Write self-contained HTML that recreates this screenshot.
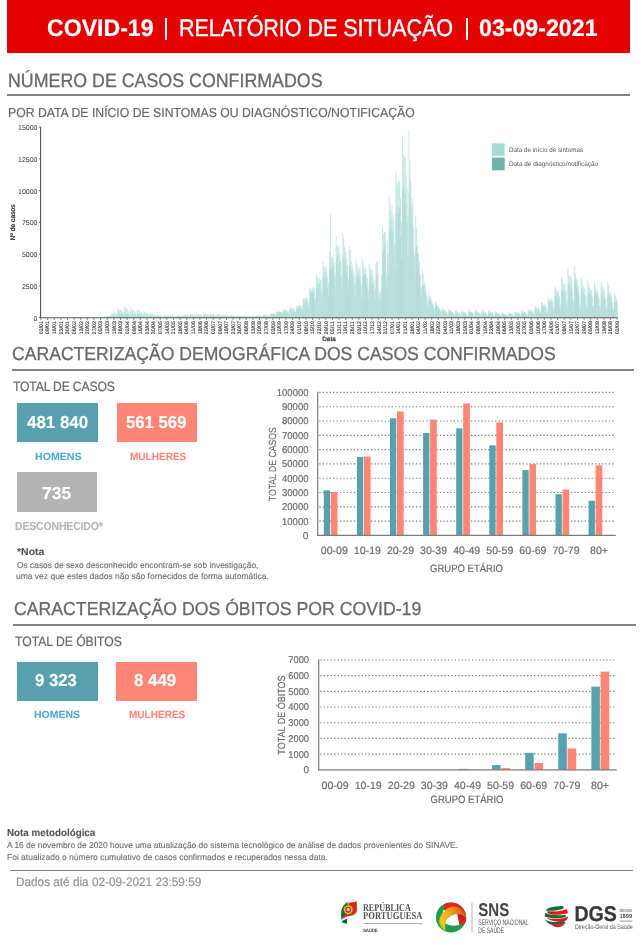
<!DOCTYPE html>
<html lang="pt"><head><meta charset="utf-8"><title>COVID-19 | Relatório de Situação | 03-09-2021</title>
<style>
html,body{margin:0;padding:0;background:#fff}
body{width:643px;height:950px;position:relative;overflow:hidden;font-family:"Liberation Sans",sans-serif;text-rendering:geometricPrecision}
.t{position:absolute;white-space:nowrap;margin:0;transform-origin:0 0}
.b{font-weight:bold}
.se{font-family:"Liberation Serif",serif}
.r{position:absolute}
svg{position:absolute;left:0;top:0}
text{white-space:pre;text-rendering:geometricPrecision}
#w{position:absolute;left:0;top:0;width:643px;height:950px;will-change:transform}
</style></head><body><div id="w">
<div class="r" style="left:7.00px;top:0.00px;width:623.00px;height:52.50px;background:#e50000;"></div>
<div class="t b" style="left:46.85px;top:15px;font-size:23.98px;line-height:27px;letter-spacing:0.000px;color:#fff;-webkit-text-stroke:0.19px currentColor;transform:scaleX(0.9639);">COVID-19</div>
<div class="r" style="left:165.00px;top:17.50px;width:2.00px;height:22.50px;background:#fff;"></div>
<div class="t" style="left:178.83px;top:15px;font-size:23.98px;line-height:27px;letter-spacing:-0.067px;color:#fff;-webkit-text-stroke:0.36px currentColor;transform:scaleX(0.9000);">RELATÓRIO DE SITUAÇÃO</div>
<div class="r" style="left:465.70px;top:17.50px;width:2.00px;height:22.50px;background:#fff;"></div>
<div class="t b" style="left:478.78px;top:15px;font-size:23.98px;line-height:27px;letter-spacing:0.000px;color:#fff;-webkit-text-stroke:0.19px currentColor;transform:scaleX(0.9666);">03-09-2021</div>
<div class="t" style="left:7.64px;top:71px;font-size:19.33px;line-height:21px;letter-spacing:0.000px;color:#6b6767;-webkit-text-stroke:0.29px currentColor;transform:scaleX(0.9211);">NÚMERO DE CASOS CONFIRMADOS</div>
<div class="r" style="left:7.00px;top:94.00px;width:623.00px;height:1.70px;background:#858080;"></div>
<div class="t" style="left:7.70px;top:105px;font-size:13.08px;line-height:15px;letter-spacing:0.000px;color:#6b6767;-webkit-text-stroke:0.20px currentColor;transform:scaleX(0.9360);">POR DATA DE INÍCIO DE SINTOMAS OU DIAGNÓSTICO/NOTIFICAÇÃO</div>
<div class="t" style="left:12.11px;top:343px;font-size:18.75px;line-height:21px;letter-spacing:0.000px;color:#6b6767;-webkit-text-stroke:0.28px currentColor;transform:scaleX(0.9387);">CARACTERIZAÇÃO DEMOGRÁFICA DOS CASOS CONFIRMADOS</div>
<div class="r" style="left:11.60px;top:369.10px;width:622.50px;height:1.70px;background:#858080;"></div>
<div class="t" style="left:12.73px;top:379px;font-size:13.52px;line-height:15px;letter-spacing:-0.177px;color:#6b6767;-webkit-text-stroke:0.20px currentColor;transform:scaleX(0.9000);">TOTAL DE CASOS</div>
<div class="r" style="left:17.10px;top:403.10px;width:80.80px;height:39.20px;background:#57a0ad;"></div>
<div class="t b" style="left:27.14px;top:412px;font-size:17.30px;line-height:20px;letter-spacing:0.000px;color:#fff;-webkit-text-stroke:0.14px currentColor;transform:scaleX(0.9778);">481 840</div>
<div class="t b" style="left:34.89px;top:452px;font-size:10.47px;line-height:11px;letter-spacing:0.000px;color:#4fa8d8;-webkit-text-stroke:0.08px currentColor;transform:scaleX(1.0146);">HOMENS</div>
<div class="r" style="left:116.70px;top:403.10px;width:80.30px;height:39.20px;background:#ff8674;"></div>
<div class="t b" style="left:126.08px;top:412px;font-size:17.30px;line-height:20px;letter-spacing:0.000px;color:#fff;-webkit-text-stroke:0.14px currentColor;transform:scaleX(0.9680);">561 569</div>
<div class="t b" style="left:130.23px;top:452px;font-size:10.47px;line-height:11px;letter-spacing:0.000px;color:#ff8674;-webkit-text-stroke:0.08px currentColor;transform:scaleX(0.9576);">MULHERES</div>
<div class="r" style="left:16.90px;top:472.40px;width:80.60px;height:39.40px;background:#b3b3b3;"></div>
<div class="t b" style="left:42.05px;top:483px;font-size:17.30px;line-height:20px;letter-spacing:0.000px;color:#fff;-webkit-text-stroke:0.14px currentColor;transform:scaleX(1.0094);">735</div>
<div class="t b" style="left:14.70px;top:520px;font-size:11.63px;line-height:13px;letter-spacing:-0.162px;color:#b3b3b3;-webkit-text-stroke:0.09px currentColor;transform:scaleX(0.9000);">DESCONHECIDO*</div>
<div class="t b" style="left:16.87px;top:547px;font-size:10.17px;line-height:11px;letter-spacing:0.000px;color:#525252;-webkit-text-stroke:0.08px currentColor;transform:scaleX(1.0304);">*Nota</div>
<div class="t" style="left:16.50px;top:560px;font-size:8.58px;line-height:10px;letter-spacing:0.000px;color:#707070;-webkit-text-stroke:0.13px currentColor;transform:scaleX(0.9773);">Os casos de sexo desconhecido encontram-se sob investigação,</div>
<div class="t" style="left:16.35px;top:571px;font-size:8.58px;line-height:10px;letter-spacing:0.000px;color:#707070;-webkit-text-stroke:0.13px currentColor;transform:scaleX(0.9890);">uma vez que estes dados não são fornecidos de forma automática.</div>
<div class="t" style="left:14.10px;top:598px;font-size:18.75px;line-height:21px;letter-spacing:0.000px;color:#6b6767;-webkit-text-stroke:0.28px currentColor;transform:scaleX(0.9426);">CARACTERIZAÇÃO DOS ÓBITOS POR COVID-19</div>
<div class="r" style="left:13.30px;top:624.40px;width:623.20px;height:1.70px;background:#858080;"></div>
<div class="t" style="left:14.73px;top:634px;font-size:13.52px;line-height:15px;letter-spacing:-0.018px;color:#6b6767;-webkit-text-stroke:0.20px currentColor;transform:scaleX(0.9000);">TOTAL DE ÓBITOS</div>
<div class="r" style="left:17.10px;top:661.50px;width:80.80px;height:39.20px;background:#57a0ad;"></div>
<div class="t b" style="left:34.82px;top:670px;font-size:17.30px;line-height:20px;letter-spacing:0.000px;color:#fff;-webkit-text-stroke:0.14px currentColor;transform:scaleX(0.9675);">9 323</div>
<div class="t b" style="left:34.00px;top:710px;font-size:10.47px;line-height:11px;letter-spacing:0.000px;color:#4fa8d8;-webkit-text-stroke:0.08px currentColor;transform:scaleX(1.0034);">HOMENS</div>
<div class="r" style="left:116.20px;top:661.50px;width:80.60px;height:39.20px;background:#ff8674;"></div>
<div class="t b" style="left:134.26px;top:670px;font-size:17.30px;line-height:20px;letter-spacing:0.000px;color:#fff;-webkit-text-stroke:0.14px currentColor;transform:scaleX(0.9762);">8 449</div>
<div class="t b" style="left:129.43px;top:710px;font-size:10.47px;line-height:11px;letter-spacing:0.000px;color:#ff8674;-webkit-text-stroke:0.08px currentColor;transform:scaleX(0.9576);">MULHERES</div>
<div class="t b" style="left:6.84px;top:828px;font-size:10.17px;line-height:11px;letter-spacing:0.000px;color:#525252;-webkit-text-stroke:0.08px currentColor;transform:scaleX(0.9657);">Nota metodológica</div>
<div class="t" style="left:7.48px;top:840px;font-size:8.58px;line-height:10px;letter-spacing:0.000px;color:#707070;-webkit-text-stroke:0.13px currentColor;transform:scaleX(0.9773);">A 16 de novembro de 2020 houve uma atualização do sistema tecnológico de análise de dados provenientes do SINAVE.</div>
<div class="t" style="left:6.81px;top:852px;font-size:8.58px;line-height:10px;letter-spacing:0.000px;color:#707070;-webkit-text-stroke:0.13px currentColor;transform:scaleX(0.9868);">Foi atualizado o número cumulativo de casos confirmados e recuperados nessa data.</div>
<div class="r" style="left:10.00px;top:869.50px;width:622.50px;height:1.40px;background:#8a8686;"></div>
<div class="t" style="left:15.83px;top:875px;font-size:12.35px;line-height:14px;letter-spacing:0.000px;color:#939393;-webkit-text-stroke:0.19px currentColor;transform:scaleX(0.9537);">Dados até dia 02-09-2021 23:59:59</div>
<svg width="643" height="950" viewBox="0 0 643 950">
<g id="epi">
<path d="M98.71 317.60v-0.10M99.66 317.60v-0.18M100.61 317.60v-0.27M101.55 317.60v-0.33M102.50 317.60v-0.32M103.45 317.60v-0.33M104.39 317.60v-0.76M105.34 317.60v-1.09M106.28 317.60v-1.46M107.23 317.60v-1.70M108.18 317.60v-1.93M109.12 317.60v-1.84M110.07 317.60v-1.87M111.01 317.60v-4.19M111.96 317.60v-4.31M112.91 317.60v-4.53M113.85 317.60v-5.21M114.80 317.60v-5.08M115.75 317.60v-4.35M116.69 317.60v-4.01M117.64 317.60v-8.89M118.58 317.60v-7.85M119.53 317.60v-8.04M120.48 317.60v-7.80M121.42 317.60v-7.40M122.37 317.60v-6.37M123.31 317.60v-5.14M124.26 317.60v-10.79M125.21 317.60v-9.90M126.15 317.60v-9.27M127.10 317.60v-8.19M128.04 317.60v-8.09M128.99 317.60v-6.39M129.94 317.60v-5.25M130.88 317.60v-10.16M131.83 317.60v-8.77M132.78 317.60v-7.79M133.72 317.60v-7.29M134.67 317.60v-7.02M135.61 317.60v-5.51M136.56 317.60v-4.46M137.51 317.60v-8.25M138.45 317.60v-7.02M139.40 317.60v-6.42M140.34 317.60v-6.28M141.29 317.60v-5.40M142.24 317.60v-4.37M143.18 317.60v-3.47M144.13 317.60v-6.60M145.08 317.60v-5.86M146.02 317.60v-5.02M146.97 317.60v-4.60M147.91 317.60v-4.33M148.86 317.60v-3.17M149.81 317.60v-2.60M150.75 317.60v-4.83M151.70 317.60v-3.97M152.64 317.60v-3.78M153.59 317.60v-3.36M154.54 317.60v-2.86M155.48 317.60v-2.14M156.43 317.60v-1.57M157.38 317.60v-3.05M158.32 317.60v-2.71M159.27 317.60v-2.50M160.21 317.60v-2.41M161.16 317.60v-2.07M162.11 317.60v-1.65M163.05 317.60v-1.36M164.00 317.60v-2.74M164.94 317.60v-2.56M165.89 317.60v-2.30M166.84 317.60v-2.25M167.78 317.60v-2.07M168.73 317.60v-1.61M169.68 317.60v-1.26M170.62 317.60v-2.64M171.57 317.60v-2.28M172.51 317.60v-2.22M173.46 317.60v-2.23M174.41 317.60v-2.01M175.35 317.60v-1.68M176.30 317.60v-1.35M177.24 317.60v-2.84M178.19 317.60v-2.55M179.14 317.60v-2.52M180.08 317.60v-2.48M181.03 317.60v-2.26M181.98 317.60v-1.88M182.92 317.60v-1.63M183.87 317.60v-3.25M184.81 317.60v-2.96M185.76 317.60v-2.89M186.71 317.60v-2.83M187.65 317.60v-2.55M188.60 317.60v-2.15M189.54 317.60v-1.69M190.49 317.60v-3.56M191.44 317.60v-3.14M192.38 317.60v-3.12M193.33 317.60v-3.03M194.27 317.60v-2.78M195.22 317.60v-2.14M196.17 317.60v-1.95M197.11 317.60v-3.76M198.06 317.60v-3.36M199.01 317.60v-3.38M199.95 317.60v-2.94M200.90 317.60v-2.83M201.84 317.60v-2.23M202.79 317.60v-1.97M203.74 317.60v-3.86M204.68 317.60v-3.47M205.63 317.60v-3.25M206.57 317.60v-3.13M207.52 317.60v-3.04M208.47 317.60v-2.47M209.41 317.60v-1.93M210.36 317.60v-3.96M211.31 317.60v-3.47M212.25 317.60v-3.32M213.20 317.60v-3.24M214.14 317.60v-2.79M215.09 317.60v-2.35M216.04 317.60v-1.86M216.98 317.60v-3.86M217.93 317.60v-3.40M218.87 317.60v-3.32M219.82 317.60v-3.04M220.77 317.60v-2.78M221.71 317.60v-2.22M222.66 317.60v-1.73M223.61 317.60v-3.45M224.55 317.60v-2.96M225.50 317.60v-2.80M226.44 317.60v-2.45M227.39 317.60v-2.20M228.34 317.60v-1.78M229.28 317.60v-1.50M230.23 317.60v-2.84M231.17 317.60v-2.41M232.12 317.60v-2.18M233.07 317.60v-2.00M234.01 317.60v-1.90M234.96 317.60v-1.49M235.91 317.60v-1.16M236.85 317.60v-2.34M237.80 317.60v-2.06M238.74 317.60v-1.89M239.69 317.60v-1.80M240.64 317.60v-1.58M241.58 317.60v-1.30M242.53 317.60v-1.03M243.47 317.60v-2.03M244.42 317.60v-1.77M245.37 317.60v-1.79M246.31 317.60v-1.60M247.26 317.60v-1.60M248.20 317.60v-1.28M249.15 317.60v-1.03M250.10 317.60v-2.13M251.04 317.60v-1.89M251.99 317.60v-1.84M252.94 317.60v-1.90M253.88 317.60v-1.66M254.83 317.60v-1.38M255.77 317.60v-1.14M256.72 317.60v-2.44M257.67 317.60v-2.27M258.61 317.60v-2.22M259.56 317.60v-2.11M260.50 317.60v-2.04M261.45 317.60v-1.64M262.40 317.60v-1.44M263.34 317.60v-3.05M264.29 317.60v-2.92M265.24 317.60v-2.85M266.18 317.60v-2.69M267.13 317.60v-2.73M268.07 317.60v-2.23M269.02 317.60v-1.79M269.97 317.60v-3.86M270.91 317.60v-3.96M271.86 317.60v-4.12M272.80 317.60v-4.19M273.75 317.60v-4.49M274.70 317.60v-4.21M275.64 317.60v-3.36M276.59 317.60v-6.60M277.54 317.60v-6.20M278.48 317.60v-6.01M279.43 317.60v-6.05M280.37 317.60v-6.37M281.32 317.60v-5.84M282.27 317.60v-4.45M283.21 317.60v-8.89M284.16 317.60v-8.55M285.10 317.60v-7.99M286.05 317.60v-7.49M287.00 317.60v-7.50M287.94 317.60v-6.70M288.89 317.60v-5.04M289.84 317.60v-10.16M290.78 317.60v-9.56M291.73 317.60v-9.12M292.67 317.60v-9.26M293.62 317.60v-9.01M294.57 317.60v-7.66M295.51 317.60v-6.17M296.46 317.60v-11.81M297.40 317.60v-11.24M298.35 317.60v-11.66M299.30 317.60v-12.62M300.24 317.60v-12.49M301.19 317.60v-11.85M302.13 317.60v-9.01M303.08 317.60v-19.05M304.03 317.60v-19.85M304.97 317.60v-18.12M305.92 317.60v-20.28M306.87 317.60v-20.07M307.81 317.60v-18.19M308.76 317.60v-14.29M309.70 317.60v-29.84M310.65 317.60v-29.28M311.60 317.60v-27.88M312.54 317.60v-29.54M313.49 317.60v-30.58M314.43 317.60v-28.66M315.38 317.60v-20.44M316.33 317.60v-43.18M317.27 317.60v-41.19M318.22 317.60v-38.81M319.17 317.60v-39.61M320.11 317.60v-38.34M321.06 317.60v-37.82M322.00 317.60v-29.31M322.95 317.60v-55.88M323.90 317.60v-51.64M324.84 317.60v-50.01M325.79 317.60v-50.44M326.73 317.60v-48.99M327.68 317.60v-42.20M328.63 317.60v-34.71M329.57 317.60v-66.04M330.52 317.60v-103.89M331.47 317.60v-60.92M332.41 317.60v-59.92M333.36 317.60v-62.70M334.30 317.60v-55.20M335.25 317.60v-43.54M336.20 317.60v-82.55M337.14 317.60v-72.73M338.09 317.60v-71.05M339.03 317.60v-70.10M339.98 317.60v-63.78M340.93 317.60v-56.43M341.87 317.60v-42.98M342.82 317.60v-84.20M343.77 317.60v-79.44M344.71 317.60v-70.44M345.66 317.60v-65.83M346.60 317.60v-59.62M347.55 317.60v-51.18M348.50 317.60v-38.23M349.44 317.60v-71.75M350.39 317.60v-67.63M351.33 317.60v-56.63M352.28 317.60v-53.00M353.23 317.60v-49.77M354.17 317.60v-43.13M355.12 317.60v-33.17M356.07 317.60v-59.69M357.01 317.60v-54.39M357.96 317.60v-50.61M358.90 317.60v-47.24M359.85 317.60v-49.80M360.80 317.60v-41.61M361.74 317.60v-31.99M362.69 317.60v-59.31M363.63 317.60v-52.49M364.58 317.60v-49.40M365.53 317.60v-48.93M366.47 317.60v-42.80M367.42 317.60v-39.60M368.36 317.60v-28.33M369.31 317.60v-53.85M370.26 317.60v-49.10M371.20 317.60v-48.01M372.15 317.60v-47.09M373.10 317.60v-41.73M374.04 317.60v-38.16M374.99 317.60v-29.59M375.93 317.60v-54.61M376.88 317.60v-56.40M377.83 317.60v-56.05M378.77 317.60v-26.87M379.72 317.60v-28.16M380.66 317.60v-24.76M381.61 317.60v-43.26M382.56 317.60v-90.42M383.50 317.60v-83.88M384.45 317.60v-85.59M385.40 317.60v-85.11M386.34 317.60v-43.69M387.29 317.60v-77.23M388.23 317.60v-63.62M389.18 317.60v-121.41M390.13 317.60v-114.69M391.07 317.60v-107.73M392.02 317.60v-111.87M392.96 317.60v-103.32M393.91 317.60v-99.13M394.86 317.60v-72.43M395.80 317.60v-146.30M396.75 317.60v-135.39M397.70 317.60v-132.23M398.64 317.60v-136.30M399.59 317.60v-136.96M400.53 317.60v-119.93M401.48 317.60v-95.95M402.43 317.60v-181.23M403.37 317.60v-163.14M404.32 317.60v-161.68M405.26 317.60v-159.81M406.21 317.60v-143.54M407.16 317.60v-129.27M408.10 317.60v-101.72M409.05 317.60v-188.21M410.00 317.60v-157.08M410.94 317.60v-135.46M411.89 317.60v-119.76M412.83 317.60v-115.21M413.78 317.60v-90.31M414.73 317.60v-61.65M415.67 317.60v-101.22M416.62 317.60v-90.02M417.56 317.60v-70.75M418.51 317.60v-64.65M419.46 317.60v-56.15M420.40 317.60v-42.53M421.35 317.60v-28.93M422.29 317.60v-49.02M423.24 317.60v-44.02M424.19 317.60v-35.97M425.13 317.60v-33.54M426.08 317.60v-27.39M427.03 317.60v-22.50M427.97 317.60v-14.75M428.92 317.60v-25.97M429.86 317.60v-21.52M430.81 317.60v-20.51M431.76 317.60v-17.18M432.70 317.60v-15.51M433.65 317.60v-12.87M434.59 317.60v-9.42M435.54 317.60v-16.00M436.49 317.60v-14.63M437.43 317.60v-12.09M438.38 317.60v-11.09M439.33 317.60v-9.74M440.27 317.60v-8.76M441.22 317.60v-6.09M442.16 317.60v-10.41M443.11 317.60v-9.11M444.06 317.60v-8.37M445.00 317.60v-7.32M445.95 317.60v-6.83M446.89 317.60v-4.93M447.84 317.60v-3.08M448.79 317.60v-8.57M449.73 317.60v-7.63M450.68 317.60v-6.53M451.63 317.60v-6.44M452.57 317.60v-5.55M453.52 317.60v-4.18M454.46 317.60v-2.43M455.41 317.60v-7.30M456.36 317.60v-6.81M457.30 317.60v-6.06M458.25 317.60v-5.28M459.19 317.60v-5.09M460.14 317.60v-3.84M461.09 317.60v-2.30M462.03 317.60v-6.73M462.98 317.60v-6.28M463.93 317.60v-5.68M464.87 317.60v-5.63M465.82 317.60v-5.19M466.76 317.60v-4.09M467.71 317.60v-2.39M468.66 317.60v-7.30M469.60 317.60v-6.88M470.55 317.60v-5.90M471.49 317.60v-6.11M472.44 317.60v-5.34M473.39 317.60v-4.31M474.33 317.60v-2.49M475.28 317.60v-7.68M476.22 317.60v-7.15M477.17 317.60v-5.94M478.12 317.60v-5.76M479.06 317.60v-5.87M480.01 317.60v-4.49M480.96 317.60v-2.71M481.90 317.60v-7.68M482.85 317.60v-7.06M483.79 317.60v-5.89M484.74 317.60v-5.94M485.69 317.60v-5.38M486.63 317.60v-4.03M487.58 317.60v-2.53M488.52 317.60v-7.30M489.47 317.60v-6.15M490.42 317.60v-5.83M491.36 317.60v-5.32M492.31 317.60v-5.13M493.26 317.60v-3.60M494.20 317.60v-2.22M495.15 317.60v-6.48M496.09 317.60v-5.40M497.04 317.60v-4.99M497.99 317.60v-4.44M498.93 317.60v-4.28M499.88 317.60v-3.04M500.82 317.60v-1.74M501.77 317.60v-4.95M502.72 317.60v-4.40M503.66 317.60v-4.10M504.61 317.60v-3.67M505.56 317.60v-3.59M506.50 317.60v-2.75M507.45 317.60v-1.68M508.39 317.60v-4.95M509.34 317.60v-4.61M510.29 317.60v-4.42M511.23 317.60v-4.25M512.18 317.60v-4.04M513.12 317.60v-3.11M514.07 317.60v-2.06M515.02 317.60v-5.97M515.96 317.60v-5.67M516.91 317.60v-4.92M517.86 317.60v-5.22M518.80 317.60v-4.77M519.75 317.60v-3.91M520.69 317.60v-2.42M521.64 317.60v-6.98M522.59 317.60v-6.26M523.53 317.60v-5.84M524.48 317.60v-6.16M525.42 317.60v-5.55M526.37 317.60v-4.48M527.32 317.60v-2.79M528.26 317.60v-8.51M529.21 317.60v-8.16M530.16 317.60v-7.14M531.10 317.60v-7.68M532.05 317.60v-7.52M532.99 317.60v-5.84M533.94 317.60v-3.68M534.89 317.60v-11.05M535.83 317.60v-10.62M536.78 317.60v-10.17M537.72 317.60v-10.08M538.67 317.60v-10.09M539.62 317.60v-7.80M540.56 317.60v-5.23M541.51 317.60v-15.62M542.45 317.60v-14.53M543.40 317.60v-13.07M544.35 317.60v-12.97M545.29 317.60v-13.09M546.24 317.60v-10.49M547.19 317.60v-6.63M548.13 317.60v-19.62M549.08 317.60v-18.24M550.02 317.60v-18.24M550.97 317.60v-18.33M551.92 317.60v-19.90M552.86 317.60v-15.92M553.81 317.60v-10.39M554.75 317.60v-30.73M555.70 317.60v-30.03M556.65 317.60v-27.77M557.59 317.60v-25.83M558.54 317.60v-26.90M559.49 317.60v-21.67M560.43 317.60v-13.51M561.38 317.60v-39.81M562.32 317.60v-38.64M563.27 317.60v-33.68M564.22 317.60v-33.68M565.16 317.60v-32.06M566.11 317.60v-27.32M567.05 317.60v-17.02M568.00 317.60v-49.53M568.95 317.60v-43.10M569.89 317.60v-41.13M570.84 317.60v-40.76M571.79 317.60v-37.27M572.73 317.60v-27.40M573.68 317.60v-17.64M574.62 317.60v-51.50M575.57 317.60v-43.93M576.52 317.60v-39.56M577.46 317.60v-37.59M578.41 317.60v-32.10M579.35 317.60v-23.49M580.30 317.60v-14.06M581.25 317.60v-40.89M582.19 317.60v-36.73M583.14 317.60v-31.81M584.09 317.60v-29.44M585.03 317.60v-28.91M585.98 317.60v-21.71M586.92 317.60v-12.54M587.87 317.60v-37.85M588.82 317.60v-32.19M589.76 317.60v-29.75M590.71 317.60v-28.43M591.65 317.60v-27.00M592.60 317.60v-19.78M593.55 317.60v-12.24M594.49 317.60v-35.81M595.44 317.60v-31.34M596.38 317.60v-27.72M597.33 317.60v-28.80M598.28 317.60v-25.68M599.22 317.60v-18.88M600.17 317.60v-12.10M601.12 317.60v-35.31M602.06 317.60v-31.60M603.01 317.60v-29.27M603.95 317.60v-28.65M604.90 317.60v-25.85M605.85 317.60v-19.25M606.79 317.60v-12.34M607.74 317.60v-35.31M608.68 317.60v-31.75M609.63 317.60v-25.36M610.58 317.60v-24.01M611.52 317.60v-22.02M612.47 317.60v-15.23M613.42 317.60v-8.51M614.36 317.60v-24.70M615.31 317.60v-22.30M616.25 317.60v-19.95M617.20 317.60v-18.16" stroke="#a3dad1" stroke-opacity="0.60" stroke-width="0.993" fill="none"/>
<path d="M99.66 317.60v-0.09M100.61 317.60v-0.13M101.55 317.60v-0.15M102.50 317.60v-0.13M103.45 317.60v-0.12M104.39 317.60v-0.29M105.34 317.60v-0.50M106.28 317.60v-0.65M107.23 317.60v-0.81M108.18 317.60v-0.91M109.12 317.60v-0.88M110.07 317.60v-0.70M111.01 317.60v-1.62M111.96 317.60v-2.00M112.91 317.60v-2.32M113.85 317.60v-2.35M114.80 317.60v-2.20M115.75 317.60v-1.92M116.69 317.60v-1.72M117.64 317.60v-3.39M118.58 317.60v-4.09M119.53 317.60v-3.59M120.48 317.60v-3.44M121.42 317.60v-3.62M122.37 317.60v-2.74M123.31 317.60v-2.07M124.26 317.60v-4.12M125.21 317.60v-4.52M126.15 317.60v-4.14M127.10 317.60v-4.17M128.04 317.60v-3.72M128.99 317.60v-2.81M129.94 317.60v-1.97M130.88 317.60v-4.07M131.83 317.60v-3.88M132.78 317.60v-3.73M133.72 317.60v-3.65M134.67 317.60v-3.06M135.61 317.60v-2.44M136.56 317.60v-1.67M137.51 317.60v-3.17M138.45 317.60v-3.23M139.40 317.60v-3.17M140.34 317.60v-3.00M141.29 317.60v-2.54M142.24 317.60v-1.73M143.18 317.60v-1.45M144.13 317.60v-2.75M145.08 317.60v-2.66M146.02 317.60v-2.54M146.97 317.60v-2.31M147.91 317.60v-1.87M148.86 317.60v-1.47M149.81 317.60v-0.97M150.75 317.60v-1.83M151.70 317.60v-2.03M152.64 317.60v-1.64M153.59 317.60v-1.65M154.54 317.60v-1.27M155.48 317.60v-0.88M156.43 317.60v-0.70M157.38 317.60v-1.24M158.32 317.60v-1.34M159.27 317.60v-1.25M160.21 317.60v-1.06M161.16 317.60v-0.95M162.11 317.60v-0.74M163.05 317.60v-0.55M164.00 317.60v-1.04M164.94 317.60v-1.12M165.89 317.60v-1.10M166.84 317.60v-1.01M167.78 317.60v-0.91M168.73 317.60v-0.70M169.68 317.60v-0.53M170.62 317.60v-1.01M171.57 317.60v-1.17M172.51 317.60v-1.08M173.46 317.60v-1.05M174.41 317.60v-0.94M175.35 317.60v-0.75M176.30 317.60v-0.57M177.24 317.60v-1.10M178.19 317.60v-1.27M179.14 317.60v-1.19M180.08 317.60v-1.21M181.03 317.60v-1.06M181.98 317.60v-0.82M182.92 317.60v-0.63M183.87 317.60v-1.31M184.81 317.60v-1.47M185.76 317.60v-1.41M186.71 317.60v-1.24M187.65 317.60v-1.24M188.60 317.60v-0.86M189.54 317.60v-0.70M190.49 317.60v-1.34M191.44 317.60v-1.42M192.38 317.60v-1.50M193.33 317.60v-1.32M194.27 317.60v-1.28M195.22 317.60v-1.01M196.17 317.60v-0.72M197.11 317.60v-1.60M198.06 317.60v-1.58M199.01 317.60v-1.59M199.95 317.60v-1.43M200.90 317.60v-1.27M201.84 317.60v-0.97M202.79 317.60v-0.72M203.74 317.60v-1.56M204.68 317.60v-1.52M205.63 317.60v-1.58M206.57 317.60v-1.39M207.52 317.60v-1.39M208.47 317.60v-0.97M209.41 317.60v-0.74M210.36 317.60v-1.65M211.31 317.60v-1.57M212.25 317.60v-1.66M213.20 317.60v-1.44M214.14 317.60v-1.41M215.09 317.60v-1.04M216.04 317.60v-0.73M216.98 317.60v-1.59M217.93 317.60v-1.50M218.87 317.60v-1.53M219.82 317.60v-1.32M220.77 317.60v-1.16M221.71 317.60v-0.92M222.66 317.60v-0.71M223.61 317.60v-1.46M224.55 317.60v-1.34M225.50 317.60v-1.26M226.44 317.60v-1.16M227.39 317.60v-1.01M228.34 317.60v-0.76M229.28 317.60v-0.57M230.23 317.60v-1.14M231.17 317.60v-1.14M232.12 317.60v-1.04M233.07 317.60v-1.03M234.01 317.60v-0.83M234.96 317.60v-0.68M235.91 317.60v-0.50M236.85 317.60v-0.93M237.80 317.60v-1.01M238.74 317.60v-0.90M239.69 317.60v-0.89M240.64 317.60v-0.77M241.58 317.60v-0.56M242.53 317.60v-0.41M243.47 317.60v-0.76M244.42 317.60v-0.81M245.37 317.60v-0.80M246.31 317.60v-0.74M247.26 317.60v-0.75M248.20 317.60v-0.53M249.15 317.60v-0.41M250.10 317.60v-0.85M251.04 317.60v-0.91M251.99 317.60v-0.95M252.94 317.60v-0.87M253.88 317.60v-0.84M254.83 317.60v-0.60M255.77 317.60v-0.47M256.72 317.60v-0.97M257.67 317.60v-1.02M258.61 317.60v-0.97M259.56 317.60v-0.97M260.50 317.60v-0.89M261.45 317.60v-0.73M262.40 317.60v-0.60M263.34 317.60v-1.22M264.29 317.60v-1.36M265.24 317.60v-1.38M266.18 317.60v-1.26M267.13 317.60v-1.14M268.07 317.60v-0.96M269.02 317.60v-0.78M269.97 317.60v-1.63M270.91 317.60v-3.25M271.86 317.60v-3.18M272.80 317.60v-3.43M273.75 317.60v-3.62M274.70 317.60v-2.94M275.64 317.60v-2.17M276.59 317.60v-4.61M277.54 317.60v-4.79M278.48 317.60v-5.12M279.43 317.60v-5.40M280.37 317.60v-5.15M281.32 317.60v-4.22M282.27 317.60v-2.71M283.21 317.60v-6.30M284.16 317.60v-6.72M285.10 317.60v-6.81M286.05 317.60v-6.63M287.00 317.60v-5.79M287.94 317.60v-5.06M288.89 317.60v-3.51M289.84 317.60v-7.37M290.78 317.60v-7.57M291.73 317.60v-7.85M292.67 317.60v-7.51M293.62 317.60v-6.69M294.57 317.60v-5.47M295.51 317.60v-3.83M296.46 317.60v-8.11M297.40 317.60v-8.92M298.35 317.60v-10.23M299.30 317.60v-10.39M300.24 317.60v-10.23M301.19 317.60v-8.45M302.13 317.60v-6.46M303.08 317.60v-12.41M304.03 317.60v-16.17M304.97 317.60v-15.85M305.92 317.60v-17.16M306.87 317.60v-15.62M307.81 317.60v-14.22M308.76 317.60v-9.73M309.70 317.60v-19.28M310.65 317.60v-24.98M311.60 317.60v-25.32M312.54 317.60v-25.49M313.49 317.60v-23.08M314.43 317.60v-19.65M315.38 317.60v-13.06M316.33 317.60v-29.33M317.27 317.60v-32.37M318.22 317.60v-32.97M319.17 317.60v-34.64M320.11 317.60v-33.41M321.06 317.60v-24.74M322.00 317.60v-18.93M322.95 317.60v-40.13M323.90 317.60v-41.67M324.84 317.60v-45.28M325.79 317.60v-40.16M326.73 317.60v-38.24M327.68 317.60v-29.81M328.63 317.60v-21.30M329.57 317.60v-47.65M330.52 317.60v-48.95M331.47 317.60v-48.73M332.41 317.60v-52.89M333.36 317.60v-50.41M334.30 317.60v-41.17M335.25 317.60v-27.45M336.20 317.60v-57.86M337.14 317.60v-63.25M338.09 317.60v-61.89M339.03 317.60v-54.92M339.98 317.60v-56.63M340.93 317.60v-41.70M341.87 317.60v-27.74M342.82 317.60v-59.17M343.77 317.60v-58.95M344.71 317.60v-56.45M345.66 317.60v-52.84M346.60 317.60v-47.00M347.55 317.60v-39.80M348.50 317.60v-24.02M349.44 317.60v-51.57M350.39 317.60v-51.46M351.33 317.60v-47.06M352.28 317.60v-44.28M353.23 317.60v-39.99M354.17 317.60v-31.88M355.12 317.60v-21.61M356.07 317.60v-40.09M357.01 317.60v-44.28M357.96 317.60v-41.93M358.90 317.60v-39.22M359.85 317.60v-36.07M360.80 317.60v-30.25M361.74 317.60v-19.38M362.69 317.60v-39.04M363.63 317.60v-42.70M364.58 317.60v-44.22M365.53 317.60v-40.76M366.47 317.60v-33.61M367.42 317.60v-29.24M368.36 317.60v-18.80M369.31 317.60v-34.05M370.26 317.60v-42.31M371.20 317.60v-40.86M372.15 317.60v-35.54M373.10 317.60v-33.06M374.04 317.60v-27.89M374.99 317.60v-19.11M375.93 317.60v-37.90M376.88 317.60v-43.93M377.83 317.60v-43.68M378.77 317.60v-20.61M379.72 317.60v-22.06M380.66 317.60v-17.10M381.61 317.60v-29.56M382.56 317.60v-63.20M383.50 317.60v-65.97M384.45 317.60v-72.31M385.40 317.60v-67.79M386.34 317.60v-32.23M387.29 317.60v-55.97M388.23 317.60v-40.58M389.18 317.60v-87.00M390.13 317.60v-89.04M391.07 317.60v-98.50M392.02 317.60v-87.39M392.96 317.60v-86.79M393.91 317.60v-68.82M394.86 317.60v-49.67M395.80 317.60v-105.41M396.75 317.60v-104.65M397.70 317.60v-111.27M398.64 317.60v-105.03M399.59 317.60v-109.97M400.53 317.60v-82.09M401.48 317.60v-58.34M402.43 317.60v-128.76M403.37 317.60v-129.59M404.32 317.60v-128.13M405.26 317.60v-125.20M406.21 317.60v-113.95M407.16 317.60v-95.26M408.10 317.60v-60.50M409.05 317.60v-126.08M410.00 317.60v-138.72M410.94 317.60v-110.24M411.89 317.60v-101.10M412.83 317.60v-93.40M413.78 317.60v-67.43M414.73 317.60v-37.72M415.67 317.60v-65.80M416.62 317.60v-71.78M417.56 317.60v-63.57M418.51 317.60v-52.67M419.46 317.60v-43.58M420.40 317.60v-30.98M421.35 317.60v-20.43M422.29 317.60v-31.58M423.24 317.60v-32.45M424.19 317.60v-31.93M425.13 317.60v-26.37M426.08 317.60v-22.86M427.03 317.60v-17.23M427.97 317.60v-9.76M428.92 317.60v-18.64M429.86 317.60v-17.94M430.81 317.60v-17.27M431.76 317.60v-13.79M432.70 317.60v-13.74M433.65 317.60v-9.75M434.59 317.60v-5.79M435.54 317.60v-10.53M436.49 317.60v-11.44M437.43 317.60v-10.69M438.38 317.60v-8.96M439.33 317.60v-8.49M440.27 317.60v-6.12M441.22 317.60v-3.56M442.16 317.60v-6.62M443.11 317.60v-7.56M444.06 317.60v-6.62M445.00 317.60v-5.91M445.95 317.60v-5.46M446.89 317.60v-2.85M447.84 317.60v-1.94M448.79 317.60v-5.87M449.73 317.60v-5.73M450.68 317.60v-5.47M451.63 317.60v-4.68M452.57 317.60v-4.47M453.52 317.60v-2.16M454.46 317.60v-1.58M455.41 317.60v-4.70M456.36 317.60v-5.33M457.30 317.60v-4.69M458.25 317.60v-4.13M459.19 317.60v-3.95M460.14 317.60v-1.99M461.09 317.60v-1.45M462.03 317.60v-4.55M462.98 317.60v-5.00M463.93 317.60v-4.44M464.87 317.60v-4.20M465.82 317.60v-3.81M466.76 317.60v-2.05M467.71 317.60v-1.46M468.66 317.60v-4.59M469.60 317.60v-5.21M470.55 317.60v-4.97M471.49 317.60v-4.63M472.44 317.60v-4.31M473.39 317.60v-2.43M474.33 317.60v-1.60M475.28 317.60v-5.30M476.22 317.60v-5.69M477.17 317.60v-5.07M478.12 317.60v-4.56M479.06 317.60v-4.28M480.01 317.60v-2.26M480.96 317.60v-1.60M481.90 317.60v-4.90M482.85 317.60v-5.67M483.79 317.60v-5.22M484.74 317.60v-4.48M485.69 317.60v-3.90M486.63 317.60v-2.15M487.58 317.60v-1.58M488.52 317.60v-4.62M489.47 317.60v-4.91M490.42 317.60v-4.59M491.36 317.60v-4.13M492.31 317.60v-3.78M493.26 317.60v-1.90M494.20 317.60v-1.39M495.15 317.60v-4.36M496.09 317.60v-4.18M497.04 317.60v-4.06M497.99 317.60v-3.51M498.93 317.60v-3.00M499.88 317.60v-1.58M500.82 317.60v-1.14M501.77 317.60v-3.50M502.72 317.60v-3.32M503.66 317.60v-3.23M504.61 317.60v-3.24M505.56 317.60v-2.85M506.50 317.60v-1.57M507.45 317.60v-0.99M508.39 317.60v-3.05M509.34 317.60v-3.64M510.29 317.60v-3.36M511.23 317.60v-3.28M512.18 317.60v-2.89M513.12 317.60v-1.71M514.07 317.60v-1.16M515.02 317.60v-3.93M515.96 317.60v-4.56M516.91 317.60v-4.03M517.86 317.60v-4.24M518.80 317.60v-3.38M519.75 317.60v-1.98M520.69 317.60v-1.46M521.64 317.60v-4.82M522.59 317.60v-5.24M523.53 317.60v-4.98M524.48 317.60v-4.95M525.42 317.60v-4.15M526.37 317.60v-2.43M527.32 317.60v-1.65M528.26 317.60v-5.42M529.21 317.60v-6.56M530.16 317.60v-6.33M531.10 317.60v-5.57M532.05 317.60v-5.19M532.99 317.60v-3.12M533.94 317.60v-2.18M534.89 317.60v-7.21M535.83 317.60v-8.11M536.78 317.60v-8.34M537.72 317.60v-7.53M538.67 317.60v-7.50M539.62 317.60v-4.45M540.56 317.60v-3.12M541.51 317.60v-9.85M542.45 317.60v-10.71M543.40 317.60v-11.29M544.35 317.60v-10.66M545.29 317.60v-9.22M546.24 317.60v-5.22M547.19 317.60v-4.16M548.13 317.60v-12.97M549.08 317.60v-14.85M550.02 317.60v-16.48M550.97 317.60v-15.87M551.92 317.60v-14.75M552.86 317.60v-7.91M553.81 317.60v-6.11M554.75 317.60v-21.58M555.70 317.60v-21.37M556.65 317.60v-24.03M557.59 317.60v-21.02M558.54 317.60v-18.81M559.49 317.60v-10.81M560.43 317.60v-7.69M561.38 317.60v-26.29M562.32 317.60v-27.66M563.27 317.60v-28.99M564.22 317.60v-25.50M565.16 317.60v-23.77M566.11 317.60v-14.38M567.05 317.60v-9.64M568.00 317.60v-33.99M568.95 317.60v-35.02M569.89 317.60v-33.39M570.84 317.60v-31.47M571.79 317.60v-29.35M572.73 317.60v-16.34M573.68 317.60v-10.60M574.62 317.60v-35.41M575.57 317.60v-37.39M576.52 317.60v-32.31M577.46 317.60v-28.88M578.41 317.60v-25.84M579.35 317.60v-13.77M580.30 317.60v-9.08M581.25 317.60v-28.82M582.19 317.60v-28.97M583.14 317.60v-25.32M584.09 317.60v-23.34M585.03 317.60v-21.33M585.98 317.60v-12.26M586.92 317.60v-7.73M587.87 317.60v-25.51M588.82 317.60v-24.46M589.76 317.60v-23.94M590.71 317.60v-22.04M591.65 317.60v-20.43M592.60 317.60v-11.11M593.55 317.60v-7.19M594.49 317.60v-25.08M595.44 317.60v-23.79M596.38 317.60v-24.72M597.33 317.60v-22.94M598.28 317.60v-18.89M599.22 317.60v-10.85M600.17 317.60v-7.27M601.12 317.60v-23.78M602.06 317.60v-26.23M603.01 317.60v-23.16M603.95 317.60v-20.49M604.90 317.60v-19.16M605.85 317.60v-9.94M606.79 317.60v-6.91M607.74 317.60v-23.47M608.68 317.60v-22.47M609.63 317.60v-22.28M610.58 317.60v-19.45M611.52 317.60v-15.35M612.47 317.60v-8.09M613.42 317.60v-5.81M614.36 317.60v-16.95M615.31 317.60v-15.81M616.25 317.60v-16.75M617.20 317.60v-14.98" stroke="#6fb3a8" stroke-opacity="0.21" stroke-width="0.993" fill="none"/>
<path d="M40.6 126.8V318.2M40.1 317.7H617.6" stroke="#4e5a59" stroke-width="1.1" fill="none"/>
<path d="M38.9 317.60H40.6" stroke="#444" stroke-width="0.8"/>
<text x="37.50" y="320.50" font-family="Liberation Sans, sans-serif" font-size="7.00" fill="#333" text-anchor="end" >0</text>
<path d="M38.9 285.85H40.6" stroke="#444" stroke-width="0.8"/>
<text x="37.50" y="288.75" font-family="Liberation Sans, sans-serif" font-size="7.00" fill="#333" text-anchor="end" >2500</text>
<path d="M38.9 254.10H40.6" stroke="#444" stroke-width="0.8"/>
<text x="37.50" y="257.00" font-family="Liberation Sans, sans-serif" font-size="7.00" fill="#333" text-anchor="end" >5000</text>
<path d="M38.9 222.35H40.6" stroke="#444" stroke-width="0.8"/>
<text x="37.50" y="225.25" font-family="Liberation Sans, sans-serif" font-size="7.00" fill="#333" text-anchor="end" >7500</text>
<path d="M38.9 190.60H40.6" stroke="#444" stroke-width="0.8"/>
<text x="37.50" y="193.50" font-family="Liberation Sans, sans-serif" font-size="7.00" fill="#333" text-anchor="end" >10000</text>
<path d="M38.9 158.85H40.6" stroke="#444" stroke-width="0.8"/>
<text x="37.50" y="161.75" font-family="Liberation Sans, sans-serif" font-size="7.00" fill="#333" text-anchor="end" >12500</text>
<path d="M38.9 127.10H40.6" stroke="#444" stroke-width="0.8"/>
<text x="37.50" y="130.00" font-family="Liberation Sans, sans-serif" font-size="7.00" fill="#333" text-anchor="end" >15000</text>
<path d="M41.00 318.1v1.8" stroke="#444" stroke-width="0.7"/>
<text x="42.80" y="321.20" font-family="Liberation Sans, sans-serif" font-size="5.20" fill="#2a2a2a" text-anchor="end" textLength="13.00" lengthAdjust="spacing" transform="rotate(-90 42.80 321.20)" stroke="#2a2a2a" stroke-width="0.12">02/01</text>
<path d="M47.62 318.1v1.8" stroke="#444" stroke-width="0.7"/>
<text x="49.42" y="321.20" font-family="Liberation Sans, sans-serif" font-size="5.20" fill="#2a2a2a" text-anchor="end" textLength="13.00" lengthAdjust="spacing" transform="rotate(-90 49.42 321.20)" stroke="#2a2a2a" stroke-width="0.12">09/01</text>
<path d="M54.25 318.1v1.8" stroke="#444" stroke-width="0.7"/>
<text x="56.05" y="321.20" font-family="Liberation Sans, sans-serif" font-size="5.20" fill="#2a2a2a" text-anchor="end" textLength="13.00" lengthAdjust="spacing" transform="rotate(-90 56.05 321.20)" stroke="#2a2a2a" stroke-width="0.12">16/01</text>
<path d="M60.87 318.1v1.8" stroke="#444" stroke-width="0.7"/>
<text x="62.67" y="321.20" font-family="Liberation Sans, sans-serif" font-size="5.20" fill="#2a2a2a" text-anchor="end" textLength="13.00" lengthAdjust="spacing" transform="rotate(-90 62.67 321.20)" stroke="#2a2a2a" stroke-width="0.12">23/01</text>
<path d="M67.49 318.1v1.8" stroke="#444" stroke-width="0.7"/>
<text x="69.29" y="321.20" font-family="Liberation Sans, sans-serif" font-size="5.20" fill="#2a2a2a" text-anchor="end" textLength="13.00" lengthAdjust="spacing" transform="rotate(-90 69.29 321.20)" stroke="#2a2a2a" stroke-width="0.12">30/01</text>
<path d="M74.11 318.1v1.8" stroke="#444" stroke-width="0.7"/>
<text x="75.91" y="321.20" font-family="Liberation Sans, sans-serif" font-size="5.20" fill="#2a2a2a" text-anchor="end" textLength="13.00" lengthAdjust="spacing" transform="rotate(-90 75.91 321.20)" stroke="#2a2a2a" stroke-width="0.12">06/02</text>
<path d="M80.74 318.1v1.8" stroke="#444" stroke-width="0.7"/>
<text x="82.54" y="321.20" font-family="Liberation Sans, sans-serif" font-size="5.20" fill="#2a2a2a" text-anchor="end" textLength="13.00" lengthAdjust="spacing" transform="rotate(-90 82.54 321.20)" stroke="#2a2a2a" stroke-width="0.12">13/02</text>
<path d="M87.36 318.1v1.8" stroke="#444" stroke-width="0.7"/>
<text x="89.16" y="321.20" font-family="Liberation Sans, sans-serif" font-size="5.20" fill="#2a2a2a" text-anchor="end" textLength="13.00" lengthAdjust="spacing" transform="rotate(-90 89.16 321.20)" stroke="#2a2a2a" stroke-width="0.12">20/02</text>
<path d="M93.98 318.1v1.8" stroke="#444" stroke-width="0.7"/>
<text x="95.78" y="321.20" font-family="Liberation Sans, sans-serif" font-size="5.20" fill="#2a2a2a" text-anchor="end" textLength="13.00" lengthAdjust="spacing" transform="rotate(-90 95.78 321.20)" stroke="#2a2a2a" stroke-width="0.12">27/02</text>
<path d="M100.61 318.1v1.8" stroke="#444" stroke-width="0.7"/>
<text x="102.41" y="321.20" font-family="Liberation Sans, sans-serif" font-size="5.20" fill="#2a2a2a" text-anchor="end" textLength="13.00" lengthAdjust="spacing" transform="rotate(-90 102.41 321.20)" stroke="#2a2a2a" stroke-width="0.12">05/03</text>
<path d="M107.23 318.1v1.8" stroke="#444" stroke-width="0.7"/>
<text x="109.03" y="321.20" font-family="Liberation Sans, sans-serif" font-size="5.20" fill="#2a2a2a" text-anchor="end" textLength="13.00" lengthAdjust="spacing" transform="rotate(-90 109.03 321.20)" stroke="#2a2a2a" stroke-width="0.12">12/03</text>
<path d="M113.85 318.1v1.8" stroke="#444" stroke-width="0.7"/>
<text x="115.65" y="321.20" font-family="Liberation Sans, sans-serif" font-size="5.20" fill="#2a2a2a" text-anchor="end" textLength="13.00" lengthAdjust="spacing" transform="rotate(-90 115.65 321.20)" stroke="#2a2a2a" stroke-width="0.12">19/03</text>
<path d="M120.48 318.1v1.8" stroke="#444" stroke-width="0.7"/>
<text x="122.28" y="321.20" font-family="Liberation Sans, sans-serif" font-size="5.20" fill="#2a2a2a" text-anchor="end" textLength="13.00" lengthAdjust="spacing" transform="rotate(-90 122.28 321.20)" stroke="#2a2a2a" stroke-width="0.12">26/03</text>
<path d="M127.10 318.1v1.8" stroke="#444" stroke-width="0.7"/>
<text x="128.90" y="321.20" font-family="Liberation Sans, sans-serif" font-size="5.20" fill="#2a2a2a" text-anchor="end" textLength="13.00" lengthAdjust="spacing" transform="rotate(-90 128.90 321.20)" stroke="#2a2a2a" stroke-width="0.12">02/04</text>
<path d="M133.72 318.1v1.8" stroke="#444" stroke-width="0.7"/>
<text x="135.52" y="321.20" font-family="Liberation Sans, sans-serif" font-size="5.20" fill="#2a2a2a" text-anchor="end" textLength="13.00" lengthAdjust="spacing" transform="rotate(-90 135.52 321.20)" stroke="#2a2a2a" stroke-width="0.12">09/04</text>
<path d="M140.34 318.1v1.8" stroke="#444" stroke-width="0.7"/>
<text x="142.14" y="321.20" font-family="Liberation Sans, sans-serif" font-size="5.20" fill="#2a2a2a" text-anchor="end" textLength="13.00" lengthAdjust="spacing" transform="rotate(-90 142.14 321.20)" stroke="#2a2a2a" stroke-width="0.12">16/04</text>
<path d="M146.97 318.1v1.8" stroke="#444" stroke-width="0.7"/>
<text x="148.77" y="321.20" font-family="Liberation Sans, sans-serif" font-size="5.20" fill="#2a2a2a" text-anchor="end" textLength="13.00" lengthAdjust="spacing" transform="rotate(-90 148.77 321.20)" stroke="#2a2a2a" stroke-width="0.12">23/04</text>
<path d="M153.59 318.1v1.8" stroke="#444" stroke-width="0.7"/>
<text x="155.39" y="321.20" font-family="Liberation Sans, sans-serif" font-size="5.20" fill="#2a2a2a" text-anchor="end" textLength="13.00" lengthAdjust="spacing" transform="rotate(-90 155.39 321.20)" stroke="#2a2a2a" stroke-width="0.12">30/04</text>
<path d="M160.21 318.1v1.8" stroke="#444" stroke-width="0.7"/>
<text x="162.01" y="321.20" font-family="Liberation Sans, sans-serif" font-size="5.20" fill="#2a2a2a" text-anchor="end" textLength="13.00" lengthAdjust="spacing" transform="rotate(-90 162.01 321.20)" stroke="#2a2a2a" stroke-width="0.12">07/05</text>
<path d="M166.84 318.1v1.8" stroke="#444" stroke-width="0.7"/>
<text x="168.64" y="321.20" font-family="Liberation Sans, sans-serif" font-size="5.20" fill="#2a2a2a" text-anchor="end" textLength="13.00" lengthAdjust="spacing" transform="rotate(-90 168.64 321.20)" stroke="#2a2a2a" stroke-width="0.12">14/05</text>
<path d="M173.46 318.1v1.8" stroke="#444" stroke-width="0.7"/>
<text x="175.26" y="321.20" font-family="Liberation Sans, sans-serif" font-size="5.20" fill="#2a2a2a" text-anchor="end" textLength="13.00" lengthAdjust="spacing" transform="rotate(-90 175.26 321.20)" stroke="#2a2a2a" stroke-width="0.12">21/05</text>
<path d="M180.08 318.1v1.8" stroke="#444" stroke-width="0.7"/>
<text x="181.88" y="321.20" font-family="Liberation Sans, sans-serif" font-size="5.20" fill="#2a2a2a" text-anchor="end" textLength="13.00" lengthAdjust="spacing" transform="rotate(-90 181.88 321.20)" stroke="#2a2a2a" stroke-width="0.12">28/05</text>
<path d="M186.71 318.1v1.8" stroke="#444" stroke-width="0.7"/>
<text x="188.51" y="321.20" font-family="Liberation Sans, sans-serif" font-size="5.20" fill="#2a2a2a" text-anchor="end" textLength="13.00" lengthAdjust="spacing" transform="rotate(-90 188.51 321.20)" stroke="#2a2a2a" stroke-width="0.12">04/06</text>
<path d="M193.33 318.1v1.8" stroke="#444" stroke-width="0.7"/>
<text x="195.13" y="321.20" font-family="Liberation Sans, sans-serif" font-size="5.20" fill="#2a2a2a" text-anchor="end" textLength="13.00" lengthAdjust="spacing" transform="rotate(-90 195.13 321.20)" stroke="#2a2a2a" stroke-width="0.12">11/06</text>
<path d="M199.95 318.1v1.8" stroke="#444" stroke-width="0.7"/>
<text x="201.75" y="321.20" font-family="Liberation Sans, sans-serif" font-size="5.20" fill="#2a2a2a" text-anchor="end" textLength="13.00" lengthAdjust="spacing" transform="rotate(-90 201.75 321.20)" stroke="#2a2a2a" stroke-width="0.12">18/06</text>
<path d="M206.57 318.1v1.8" stroke="#444" stroke-width="0.7"/>
<text x="208.37" y="321.20" font-family="Liberation Sans, sans-serif" font-size="5.20" fill="#2a2a2a" text-anchor="end" textLength="13.00" lengthAdjust="spacing" transform="rotate(-90 208.37 321.20)" stroke="#2a2a2a" stroke-width="0.12">25/06</text>
<path d="M213.20 318.1v1.8" stroke="#444" stroke-width="0.7"/>
<text x="215.00" y="321.20" font-family="Liberation Sans, sans-serif" font-size="5.20" fill="#2a2a2a" text-anchor="end" textLength="13.00" lengthAdjust="spacing" transform="rotate(-90 215.00 321.20)" stroke="#2a2a2a" stroke-width="0.12">02/07</text>
<path d="M219.82 318.1v1.8" stroke="#444" stroke-width="0.7"/>
<text x="221.62" y="321.20" font-family="Liberation Sans, sans-serif" font-size="5.20" fill="#2a2a2a" text-anchor="end" textLength="13.00" lengthAdjust="spacing" transform="rotate(-90 221.62 321.20)" stroke="#2a2a2a" stroke-width="0.12">09/07</text>
<path d="M226.44 318.1v1.8" stroke="#444" stroke-width="0.7"/>
<text x="228.24" y="321.20" font-family="Liberation Sans, sans-serif" font-size="5.20" fill="#2a2a2a" text-anchor="end" textLength="13.00" lengthAdjust="spacing" transform="rotate(-90 228.24 321.20)" stroke="#2a2a2a" stroke-width="0.12">16/07</text>
<path d="M233.07 318.1v1.8" stroke="#444" stroke-width="0.7"/>
<text x="234.87" y="321.20" font-family="Liberation Sans, sans-serif" font-size="5.20" fill="#2a2a2a" text-anchor="end" textLength="13.00" lengthAdjust="spacing" transform="rotate(-90 234.87 321.20)" stroke="#2a2a2a" stroke-width="0.12">23/07</text>
<path d="M239.69 318.1v1.8" stroke="#444" stroke-width="0.7"/>
<text x="241.49" y="321.20" font-family="Liberation Sans, sans-serif" font-size="5.20" fill="#2a2a2a" text-anchor="end" textLength="13.00" lengthAdjust="spacing" transform="rotate(-90 241.49 321.20)" stroke="#2a2a2a" stroke-width="0.12">30/07</text>
<path d="M246.31 318.1v1.8" stroke="#444" stroke-width="0.7"/>
<text x="248.11" y="321.20" font-family="Liberation Sans, sans-serif" font-size="5.20" fill="#2a2a2a" text-anchor="end" textLength="13.00" lengthAdjust="spacing" transform="rotate(-90 248.11 321.20)" stroke="#2a2a2a" stroke-width="0.12">06/08</text>
<path d="M252.94 318.1v1.8" stroke="#444" stroke-width="0.7"/>
<text x="254.74" y="321.20" font-family="Liberation Sans, sans-serif" font-size="5.20" fill="#2a2a2a" text-anchor="end" textLength="13.00" lengthAdjust="spacing" transform="rotate(-90 254.74 321.20)" stroke="#2a2a2a" stroke-width="0.12">13/08</text>
<path d="M259.56 318.1v1.8" stroke="#444" stroke-width="0.7"/>
<text x="261.36" y="321.20" font-family="Liberation Sans, sans-serif" font-size="5.20" fill="#2a2a2a" text-anchor="end" textLength="13.00" lengthAdjust="spacing" transform="rotate(-90 261.36 321.20)" stroke="#2a2a2a" stroke-width="0.12">20/08</text>
<path d="M266.18 318.1v1.8" stroke="#444" stroke-width="0.7"/>
<text x="267.98" y="321.20" font-family="Liberation Sans, sans-serif" font-size="5.20" fill="#2a2a2a" text-anchor="end" textLength="13.00" lengthAdjust="spacing" transform="rotate(-90 267.98 321.20)" stroke="#2a2a2a" stroke-width="0.12">27/08</text>
<path d="M272.80 318.1v1.8" stroke="#444" stroke-width="0.7"/>
<text x="274.60" y="321.20" font-family="Liberation Sans, sans-serif" font-size="5.20" fill="#2a2a2a" text-anchor="end" textLength="13.00" lengthAdjust="spacing" transform="rotate(-90 274.60 321.20)" stroke="#2a2a2a" stroke-width="0.12">03/09</text>
<path d="M279.43 318.1v1.8" stroke="#444" stroke-width="0.7"/>
<text x="281.23" y="321.20" font-family="Liberation Sans, sans-serif" font-size="5.20" fill="#2a2a2a" text-anchor="end" textLength="13.00" lengthAdjust="spacing" transform="rotate(-90 281.23 321.20)" stroke="#2a2a2a" stroke-width="0.12">10/09</text>
<path d="M286.05 318.1v1.8" stroke="#444" stroke-width="0.7"/>
<text x="287.85" y="321.20" font-family="Liberation Sans, sans-serif" font-size="5.20" fill="#2a2a2a" text-anchor="end" textLength="13.00" lengthAdjust="spacing" transform="rotate(-90 287.85 321.20)" stroke="#2a2a2a" stroke-width="0.12">17/09</text>
<path d="M292.67 318.1v1.8" stroke="#444" stroke-width="0.7"/>
<text x="294.47" y="321.20" font-family="Liberation Sans, sans-serif" font-size="5.20" fill="#2a2a2a" text-anchor="end" textLength="13.00" lengthAdjust="spacing" transform="rotate(-90 294.47 321.20)" stroke="#2a2a2a" stroke-width="0.12">24/09</text>
<path d="M299.30 318.1v1.8" stroke="#444" stroke-width="0.7"/>
<text x="301.10" y="321.20" font-family="Liberation Sans, sans-serif" font-size="5.20" fill="#2a2a2a" text-anchor="end" textLength="13.00" lengthAdjust="spacing" transform="rotate(-90 301.10 321.20)" stroke="#2a2a2a" stroke-width="0.12">01/10</text>
<path d="M305.92 318.1v1.8" stroke="#444" stroke-width="0.7"/>
<text x="307.72" y="321.20" font-family="Liberation Sans, sans-serif" font-size="5.20" fill="#2a2a2a" text-anchor="end" textLength="13.00" lengthAdjust="spacing" transform="rotate(-90 307.72 321.20)" stroke="#2a2a2a" stroke-width="0.12">08/10</text>
<path d="M312.54 318.1v1.8" stroke="#444" stroke-width="0.7"/>
<text x="314.34" y="321.20" font-family="Liberation Sans, sans-serif" font-size="5.20" fill="#2a2a2a" text-anchor="end" textLength="13.00" lengthAdjust="spacing" transform="rotate(-90 314.34 321.20)" stroke="#2a2a2a" stroke-width="0.12">15/10</text>
<path d="M319.17 318.1v1.8" stroke="#444" stroke-width="0.7"/>
<text x="320.97" y="321.20" font-family="Liberation Sans, sans-serif" font-size="5.20" fill="#2a2a2a" text-anchor="end" textLength="13.00" lengthAdjust="spacing" transform="rotate(-90 320.97 321.20)" stroke="#2a2a2a" stroke-width="0.12">22/10</text>
<path d="M325.79 318.1v1.8" stroke="#444" stroke-width="0.7"/>
<text x="327.59" y="321.20" font-family="Liberation Sans, sans-serif" font-size="5.20" fill="#2a2a2a" text-anchor="end" textLength="13.00" lengthAdjust="spacing" transform="rotate(-90 327.59 321.20)" stroke="#2a2a2a" stroke-width="0.12">29/10</text>
<path d="M332.41 318.1v1.8" stroke="#444" stroke-width="0.7"/>
<text x="334.21" y="321.20" font-family="Liberation Sans, sans-serif" font-size="5.20" fill="#2a2a2a" text-anchor="end" textLength="13.00" lengthAdjust="spacing" transform="rotate(-90 334.21 321.20)" stroke="#2a2a2a" stroke-width="0.12">05/11</text>
<path d="M339.03 318.1v1.8" stroke="#444" stroke-width="0.7"/>
<text x="340.83" y="321.20" font-family="Liberation Sans, sans-serif" font-size="5.20" fill="#2a2a2a" text-anchor="end" textLength="13.00" lengthAdjust="spacing" transform="rotate(-90 340.83 321.20)" stroke="#2a2a2a" stroke-width="0.12">12/11</text>
<path d="M345.66 318.1v1.8" stroke="#444" stroke-width="0.7"/>
<text x="347.46" y="321.20" font-family="Liberation Sans, sans-serif" font-size="5.20" fill="#2a2a2a" text-anchor="end" textLength="13.00" lengthAdjust="spacing" transform="rotate(-90 347.46 321.20)" stroke="#2a2a2a" stroke-width="0.12">19/11</text>
<path d="M352.28 318.1v1.8" stroke="#444" stroke-width="0.7"/>
<text x="354.08" y="321.20" font-family="Liberation Sans, sans-serif" font-size="5.20" fill="#2a2a2a" text-anchor="end" textLength="13.00" lengthAdjust="spacing" transform="rotate(-90 354.08 321.20)" stroke="#2a2a2a" stroke-width="0.12">26/11</text>
<path d="M358.90 318.1v1.8" stroke="#444" stroke-width="0.7"/>
<text x="360.70" y="321.20" font-family="Liberation Sans, sans-serif" font-size="5.20" fill="#2a2a2a" text-anchor="end" textLength="13.00" lengthAdjust="spacing" transform="rotate(-90 360.70 321.20)" stroke="#2a2a2a" stroke-width="0.12">03/12</text>
<path d="M365.53 318.1v1.8" stroke="#444" stroke-width="0.7"/>
<text x="367.33" y="321.20" font-family="Liberation Sans, sans-serif" font-size="5.20" fill="#2a2a2a" text-anchor="end" textLength="13.00" lengthAdjust="spacing" transform="rotate(-90 367.33 321.20)" stroke="#2a2a2a" stroke-width="0.12">10/12</text>
<path d="M372.15 318.1v1.8" stroke="#444" stroke-width="0.7"/>
<text x="373.95" y="321.20" font-family="Liberation Sans, sans-serif" font-size="5.20" fill="#2a2a2a" text-anchor="end" textLength="13.00" lengthAdjust="spacing" transform="rotate(-90 373.95 321.20)" stroke="#2a2a2a" stroke-width="0.12">17/12</text>
<path d="M378.77 318.1v1.8" stroke="#444" stroke-width="0.7"/>
<text x="380.57" y="321.20" font-family="Liberation Sans, sans-serif" font-size="5.20" fill="#2a2a2a" text-anchor="end" textLength="13.00" lengthAdjust="spacing" transform="rotate(-90 380.57 321.20)" stroke="#2a2a2a" stroke-width="0.12">24/12</text>
<path d="M385.40 318.1v1.8" stroke="#444" stroke-width="0.7"/>
<text x="387.20" y="321.20" font-family="Liberation Sans, sans-serif" font-size="5.20" fill="#2a2a2a" text-anchor="end" textLength="13.00" lengthAdjust="spacing" transform="rotate(-90 387.20 321.20)" stroke="#2a2a2a" stroke-width="0.12">31/12</text>
<path d="M392.02 318.1v1.8" stroke="#444" stroke-width="0.7"/>
<text x="393.82" y="321.20" font-family="Liberation Sans, sans-serif" font-size="5.20" fill="#2a2a2a" text-anchor="end" textLength="13.00" lengthAdjust="spacing" transform="rotate(-90 393.82 321.20)" stroke="#2a2a2a" stroke-width="0.12">07/01</text>
<path d="M398.64 318.1v1.8" stroke="#444" stroke-width="0.7"/>
<text x="400.44" y="321.20" font-family="Liberation Sans, sans-serif" font-size="5.20" fill="#2a2a2a" text-anchor="end" textLength="13.00" lengthAdjust="spacing" transform="rotate(-90 400.44 321.20)" stroke="#2a2a2a" stroke-width="0.12">14/01</text>
<path d="M405.26 318.1v1.8" stroke="#444" stroke-width="0.7"/>
<text x="407.06" y="321.20" font-family="Liberation Sans, sans-serif" font-size="5.20" fill="#2a2a2a" text-anchor="end" textLength="13.00" lengthAdjust="spacing" transform="rotate(-90 407.06 321.20)" stroke="#2a2a2a" stroke-width="0.12">21/01</text>
<path d="M411.89 318.1v1.8" stroke="#444" stroke-width="0.7"/>
<text x="413.69" y="321.20" font-family="Liberation Sans, sans-serif" font-size="5.20" fill="#2a2a2a" text-anchor="end" textLength="13.00" lengthAdjust="spacing" transform="rotate(-90 413.69 321.20)" stroke="#2a2a2a" stroke-width="0.12">28/01</text>
<path d="M418.51 318.1v1.8" stroke="#444" stroke-width="0.7"/>
<text x="420.31" y="321.20" font-family="Liberation Sans, sans-serif" font-size="5.20" fill="#2a2a2a" text-anchor="end" textLength="13.00" lengthAdjust="spacing" transform="rotate(-90 420.31 321.20)" stroke="#2a2a2a" stroke-width="0.12">04/02</text>
<path d="M425.13 318.1v1.8" stroke="#444" stroke-width="0.7"/>
<text x="426.93" y="321.20" font-family="Liberation Sans, sans-serif" font-size="5.20" fill="#2a2a2a" text-anchor="end" textLength="13.00" lengthAdjust="spacing" transform="rotate(-90 426.93 321.20)" stroke="#2a2a2a" stroke-width="0.12">11/02</text>
<path d="M431.76 318.1v1.8" stroke="#444" stroke-width="0.7"/>
<text x="433.56" y="321.20" font-family="Liberation Sans, sans-serif" font-size="5.20" fill="#2a2a2a" text-anchor="end" textLength="13.00" lengthAdjust="spacing" transform="rotate(-90 433.56 321.20)" stroke="#2a2a2a" stroke-width="0.12">18/02</text>
<path d="M438.38 318.1v1.8" stroke="#444" stroke-width="0.7"/>
<text x="440.18" y="321.20" font-family="Liberation Sans, sans-serif" font-size="5.20" fill="#2a2a2a" text-anchor="end" textLength="13.00" lengthAdjust="spacing" transform="rotate(-90 440.18 321.20)" stroke="#2a2a2a" stroke-width="0.12">25/02</text>
<path d="M445.00 318.1v1.8" stroke="#444" stroke-width="0.7"/>
<text x="446.80" y="321.20" font-family="Liberation Sans, sans-serif" font-size="5.20" fill="#2a2a2a" text-anchor="end" textLength="13.00" lengthAdjust="spacing" transform="rotate(-90 446.80 321.20)" stroke="#2a2a2a" stroke-width="0.12">04/03</text>
<path d="M451.63 318.1v1.8" stroke="#444" stroke-width="0.7"/>
<text x="453.43" y="321.20" font-family="Liberation Sans, sans-serif" font-size="5.20" fill="#2a2a2a" text-anchor="end" textLength="13.00" lengthAdjust="spacing" transform="rotate(-90 453.43 321.20)" stroke="#2a2a2a" stroke-width="0.12">11/03</text>
<path d="M458.25 318.1v1.8" stroke="#444" stroke-width="0.7"/>
<text x="460.05" y="321.20" font-family="Liberation Sans, sans-serif" font-size="5.20" fill="#2a2a2a" text-anchor="end" textLength="13.00" lengthAdjust="spacing" transform="rotate(-90 460.05 321.20)" stroke="#2a2a2a" stroke-width="0.12">18/03</text>
<path d="M464.87 318.1v1.8" stroke="#444" stroke-width="0.7"/>
<text x="466.67" y="321.20" font-family="Liberation Sans, sans-serif" font-size="5.20" fill="#2a2a2a" text-anchor="end" textLength="13.00" lengthAdjust="spacing" transform="rotate(-90 466.67 321.20)" stroke="#2a2a2a" stroke-width="0.12">25/03</text>
<path d="M471.49 318.1v1.8" stroke="#444" stroke-width="0.7"/>
<text x="473.29" y="321.20" font-family="Liberation Sans, sans-serif" font-size="5.20" fill="#2a2a2a" text-anchor="end" textLength="13.00" lengthAdjust="spacing" transform="rotate(-90 473.29 321.20)" stroke="#2a2a2a" stroke-width="0.12">01/04</text>
<path d="M478.12 318.1v1.8" stroke="#444" stroke-width="0.7"/>
<text x="479.92" y="321.20" font-family="Liberation Sans, sans-serif" font-size="5.20" fill="#2a2a2a" text-anchor="end" textLength="13.00" lengthAdjust="spacing" transform="rotate(-90 479.92 321.20)" stroke="#2a2a2a" stroke-width="0.12">08/04</text>
<path d="M484.74 318.1v1.8" stroke="#444" stroke-width="0.7"/>
<text x="486.54" y="321.20" font-family="Liberation Sans, sans-serif" font-size="5.20" fill="#2a2a2a" text-anchor="end" textLength="13.00" lengthAdjust="spacing" transform="rotate(-90 486.54 321.20)" stroke="#2a2a2a" stroke-width="0.12">15/04</text>
<path d="M491.36 318.1v1.8" stroke="#444" stroke-width="0.7"/>
<text x="493.16" y="321.20" font-family="Liberation Sans, sans-serif" font-size="5.20" fill="#2a2a2a" text-anchor="end" textLength="13.00" lengthAdjust="spacing" transform="rotate(-90 493.16 321.20)" stroke="#2a2a2a" stroke-width="0.12">22/04</text>
<path d="M497.99 318.1v1.8" stroke="#444" stroke-width="0.7"/>
<text x="499.79" y="321.20" font-family="Liberation Sans, sans-serif" font-size="5.20" fill="#2a2a2a" text-anchor="end" textLength="13.00" lengthAdjust="spacing" transform="rotate(-90 499.79 321.20)" stroke="#2a2a2a" stroke-width="0.12">29/04</text>
<path d="M504.61 318.1v1.8" stroke="#444" stroke-width="0.7"/>
<text x="506.41" y="321.20" font-family="Liberation Sans, sans-serif" font-size="5.20" fill="#2a2a2a" text-anchor="end" textLength="13.00" lengthAdjust="spacing" transform="rotate(-90 506.41 321.20)" stroke="#2a2a2a" stroke-width="0.12">06/05</text>
<path d="M511.23 318.1v1.8" stroke="#444" stroke-width="0.7"/>
<text x="513.03" y="321.20" font-family="Liberation Sans, sans-serif" font-size="5.20" fill="#2a2a2a" text-anchor="end" textLength="13.00" lengthAdjust="spacing" transform="rotate(-90 513.03 321.20)" stroke="#2a2a2a" stroke-width="0.12">13/05</text>
<path d="M517.86 318.1v1.8" stroke="#444" stroke-width="0.7"/>
<text x="519.66" y="321.20" font-family="Liberation Sans, sans-serif" font-size="5.20" fill="#2a2a2a" text-anchor="end" textLength="13.00" lengthAdjust="spacing" transform="rotate(-90 519.66 321.20)" stroke="#2a2a2a" stroke-width="0.12">20/05</text>
<path d="M524.48 318.1v1.8" stroke="#444" stroke-width="0.7"/>
<text x="526.28" y="321.20" font-family="Liberation Sans, sans-serif" font-size="5.20" fill="#2a2a2a" text-anchor="end" textLength="13.00" lengthAdjust="spacing" transform="rotate(-90 526.28 321.20)" stroke="#2a2a2a" stroke-width="0.12">27/05</text>
<path d="M531.10 318.1v1.8" stroke="#444" stroke-width="0.7"/>
<text x="532.90" y="321.20" font-family="Liberation Sans, sans-serif" font-size="5.20" fill="#2a2a2a" text-anchor="end" textLength="13.00" lengthAdjust="spacing" transform="rotate(-90 532.90 321.20)" stroke="#2a2a2a" stroke-width="0.12">03/06</text>
<path d="M537.72 318.1v1.8" stroke="#444" stroke-width="0.7"/>
<text x="539.52" y="321.20" font-family="Liberation Sans, sans-serif" font-size="5.20" fill="#2a2a2a" text-anchor="end" textLength="13.00" lengthAdjust="spacing" transform="rotate(-90 539.52 321.20)" stroke="#2a2a2a" stroke-width="0.12">10/06</text>
<path d="M544.35 318.1v1.8" stroke="#444" stroke-width="0.7"/>
<text x="546.15" y="321.20" font-family="Liberation Sans, sans-serif" font-size="5.20" fill="#2a2a2a" text-anchor="end" textLength="13.00" lengthAdjust="spacing" transform="rotate(-90 546.15 321.20)" stroke="#2a2a2a" stroke-width="0.12">17/06</text>
<path d="M550.97 318.1v1.8" stroke="#444" stroke-width="0.7"/>
<text x="552.77" y="321.20" font-family="Liberation Sans, sans-serif" font-size="5.20" fill="#2a2a2a" text-anchor="end" textLength="13.00" lengthAdjust="spacing" transform="rotate(-90 552.77 321.20)" stroke="#2a2a2a" stroke-width="0.12">24/06</text>
<path d="M557.59 318.1v1.8" stroke="#444" stroke-width="0.7"/>
<text x="559.39" y="321.20" font-family="Liberation Sans, sans-serif" font-size="5.20" fill="#2a2a2a" text-anchor="end" textLength="13.00" lengthAdjust="spacing" transform="rotate(-90 559.39 321.20)" stroke="#2a2a2a" stroke-width="0.12">01/07</text>
<path d="M564.22 318.1v1.8" stroke="#444" stroke-width="0.7"/>
<text x="566.02" y="321.20" font-family="Liberation Sans, sans-serif" font-size="5.20" fill="#2a2a2a" text-anchor="end" textLength="13.00" lengthAdjust="spacing" transform="rotate(-90 566.02 321.20)" stroke="#2a2a2a" stroke-width="0.12">08/07</text>
<path d="M570.84 318.1v1.8" stroke="#444" stroke-width="0.7"/>
<text x="572.64" y="321.20" font-family="Liberation Sans, sans-serif" font-size="5.20" fill="#2a2a2a" text-anchor="end" textLength="13.00" lengthAdjust="spacing" transform="rotate(-90 572.64 321.20)" stroke="#2a2a2a" stroke-width="0.12">15/07</text>
<path d="M577.46 318.1v1.8" stroke="#444" stroke-width="0.7"/>
<text x="579.26" y="321.20" font-family="Liberation Sans, sans-serif" font-size="5.20" fill="#2a2a2a" text-anchor="end" textLength="13.00" lengthAdjust="spacing" transform="rotate(-90 579.26 321.20)" stroke="#2a2a2a" stroke-width="0.12">22/07</text>
<path d="M584.09 318.1v1.8" stroke="#444" stroke-width="0.7"/>
<text x="585.89" y="321.20" font-family="Liberation Sans, sans-serif" font-size="5.20" fill="#2a2a2a" text-anchor="end" textLength="13.00" lengthAdjust="spacing" transform="rotate(-90 585.89 321.20)" stroke="#2a2a2a" stroke-width="0.12">29/07</text>
<path d="M590.71 318.1v1.8" stroke="#444" stroke-width="0.7"/>
<text x="592.51" y="321.20" font-family="Liberation Sans, sans-serif" font-size="5.20" fill="#2a2a2a" text-anchor="end" textLength="13.00" lengthAdjust="spacing" transform="rotate(-90 592.51 321.20)" stroke="#2a2a2a" stroke-width="0.12">05/08</text>
<path d="M597.33 318.1v1.8" stroke="#444" stroke-width="0.7"/>
<text x="599.13" y="321.20" font-family="Liberation Sans, sans-serif" font-size="5.20" fill="#2a2a2a" text-anchor="end" textLength="13.00" lengthAdjust="spacing" transform="rotate(-90 599.13 321.20)" stroke="#2a2a2a" stroke-width="0.12">12/08</text>
<path d="M603.95 318.1v1.8" stroke="#444" stroke-width="0.7"/>
<text x="605.75" y="321.20" font-family="Liberation Sans, sans-serif" font-size="5.20" fill="#2a2a2a" text-anchor="end" textLength="13.00" lengthAdjust="spacing" transform="rotate(-90 605.75 321.20)" stroke="#2a2a2a" stroke-width="0.12">19/08</text>
<path d="M610.58 318.1v1.8" stroke="#444" stroke-width="0.7"/>
<text x="612.38" y="321.20" font-family="Liberation Sans, sans-serif" font-size="5.20" fill="#2a2a2a" text-anchor="end" textLength="13.00" lengthAdjust="spacing" transform="rotate(-90 612.38 321.20)" stroke="#2a2a2a" stroke-width="0.12">26/08</text>
<path d="M617.20 318.1v1.8" stroke="#444" stroke-width="0.7"/>
<text x="619.00" y="321.20" font-family="Liberation Sans, sans-serif" font-size="5.20" fill="#2a2a2a" text-anchor="end" textLength="13.00" lengthAdjust="spacing" transform="rotate(-90 619.00 321.20)" stroke="#2a2a2a" stroke-width="0.12">02/09</text>
<text x="15.20" y="222.40" font-family="Liberation Sans, sans-serif" font-size="6.70" fill="#222" text-anchor="middle" textLength="36.10" lengthAdjust="spacing" transform="rotate(-90 15.20 222.40)" stroke="#222" stroke-width="0.22">Nº de casos</text>
<text x="329.00" y="340.90" font-family="Liberation Sans, sans-serif" font-size="6.30" fill="#222" text-anchor="middle" textLength="13.60" lengthAdjust="spacing" stroke="#222" stroke-width="0.22">Data</text>
<rect x="491.9" y="143.3" width="12.8" height="12.6" fill="#a5ddd3"/>
<rect x="491.9" y="157.6" width="12.8" height="12.8" fill="#70b4a9"/>
<text x="508.90" y="152.20" font-family="Liberation Sans, sans-serif" font-size="6.60" fill="#555" textLength="74.20" lengthAdjust="spacingAndGlyphs">Data de início de sintomas</text>
<text x="508.90" y="165.80" font-family="Liberation Sans, sans-serif" font-size="6.60" fill="#555" textLength="89.30" lengthAdjust="spacingAndGlyphs">Data de diagnóstico/notificação</text>
</g>
<g id="cases">
<path d="M319.30 521.10H614.80" stroke="#7a7a7a" stroke-width="1.15" stroke-dasharray="1.3 2.147" fill="none"/>
<path d="M319.30 506.80H614.80" stroke="#7a7a7a" stroke-width="1.15" stroke-dasharray="1.3 2.147" fill="none"/>
<path d="M319.30 492.50H614.80" stroke="#7a7a7a" stroke-width="1.15" stroke-dasharray="1.3 2.147" fill="none"/>
<path d="M319.30 478.20H614.80" stroke="#7a7a7a" stroke-width="1.15" stroke-dasharray="1.3 2.147" fill="none"/>
<path d="M319.30 463.90H614.80" stroke="#7a7a7a" stroke-width="1.15" stroke-dasharray="1.3 2.147" fill="none"/>
<path d="M319.30 449.60H614.80" stroke="#7a7a7a" stroke-width="1.15" stroke-dasharray="1.3 2.147" fill="none"/>
<path d="M319.30 435.30H614.80" stroke="#7a7a7a" stroke-width="1.15" stroke-dasharray="1.3 2.147" fill="none"/>
<path d="M319.30 421.00H614.80" stroke="#7a7a7a" stroke-width="1.15" stroke-dasharray="1.3 2.147" fill="none"/>
<path d="M319.30 406.70H614.80" stroke="#7a7a7a" stroke-width="1.15" stroke-dasharray="1.3 2.147" fill="none"/>
<path d="M319.30 392.40H614.80" stroke="#7a7a7a" stroke-width="1.15" stroke-dasharray="1.3 2.147" fill="none"/>
<text x="308.50" y="538.85" font-family="Liberation Sans, sans-serif" font-size="9.90" fill="#6a6a6a" text-anchor="end" textLength="5.70" lengthAdjust="spacingAndGlyphs" stroke="#6a6a6a" stroke-width="0.18">0</text>
<text x="308.50" y="524.55" font-family="Liberation Sans, sans-serif" font-size="9.90" fill="#6a6a6a" text-anchor="end" textLength="26.50" lengthAdjust="spacingAndGlyphs" stroke="#6a6a6a" stroke-width="0.18">10000</text>
<text x="308.50" y="510.25" font-family="Liberation Sans, sans-serif" font-size="9.90" fill="#6a6a6a" text-anchor="end" textLength="26.50" lengthAdjust="spacingAndGlyphs" stroke="#6a6a6a" stroke-width="0.18">20000</text>
<text x="308.50" y="495.95" font-family="Liberation Sans, sans-serif" font-size="9.90" fill="#6a6a6a" text-anchor="end" textLength="26.50" lengthAdjust="spacingAndGlyphs" stroke="#6a6a6a" stroke-width="0.18">30000</text>
<text x="308.50" y="481.65" font-family="Liberation Sans, sans-serif" font-size="9.90" fill="#6a6a6a" text-anchor="end" textLength="26.50" lengthAdjust="spacingAndGlyphs" stroke="#6a6a6a" stroke-width="0.18">40000</text>
<text x="308.50" y="467.35" font-family="Liberation Sans, sans-serif" font-size="9.90" fill="#6a6a6a" text-anchor="end" textLength="26.50" lengthAdjust="spacingAndGlyphs" stroke="#6a6a6a" stroke-width="0.18">50000</text>
<text x="308.50" y="453.05" font-family="Liberation Sans, sans-serif" font-size="9.90" fill="#6a6a6a" text-anchor="end" textLength="26.50" lengthAdjust="spacingAndGlyphs" stroke="#6a6a6a" stroke-width="0.18">60000</text>
<text x="308.50" y="438.75" font-family="Liberation Sans, sans-serif" font-size="9.90" fill="#6a6a6a" text-anchor="end" textLength="26.50" lengthAdjust="spacingAndGlyphs" stroke="#6a6a6a" stroke-width="0.18">70000</text>
<text x="308.50" y="424.45" font-family="Liberation Sans, sans-serif" font-size="9.90" fill="#6a6a6a" text-anchor="end" textLength="26.50" lengthAdjust="spacingAndGlyphs" stroke="#6a6a6a" stroke-width="0.18">80000</text>
<text x="308.50" y="410.15" font-family="Liberation Sans, sans-serif" font-size="9.90" fill="#6a6a6a" text-anchor="end" textLength="26.50" lengthAdjust="spacingAndGlyphs" stroke="#6a6a6a" stroke-width="0.18">90000</text>
<text x="308.50" y="395.85" font-family="Liberation Sans, sans-serif" font-size="9.90" fill="#6a6a6a" text-anchor="end" textLength="31.70" lengthAdjust="spacingAndGlyphs" stroke="#6a6a6a" stroke-width="0.18">100000</text>
<rect x="323.80" y="490.35" width="6.30" height="45.05" fill="#57a0ad"/>
<rect x="330.80" y="491.93" width="6.70" height="43.47" fill="#ff8674"/>
<rect x="356.90" y="456.89" width="6.30" height="78.51" fill="#57a0ad"/>
<rect x="363.90" y="456.61" width="6.70" height="78.79" fill="#ff8674"/>
<rect x="390.00" y="418.28" width="6.30" height="117.12" fill="#57a0ad"/>
<rect x="397.00" y="411.56" width="6.70" height="123.84" fill="#ff8674"/>
<rect x="423.10" y="433.01" width="6.30" height="102.39" fill="#57a0ad"/>
<rect x="430.10" y="419.57" width="6.70" height="115.83" fill="#ff8674"/>
<rect x="456.20" y="428.29" width="6.30" height="107.11" fill="#57a0ad"/>
<rect x="463.20" y="403.55" width="6.70" height="131.85" fill="#ff8674"/>
<rect x="489.30" y="445.31" width="6.30" height="90.09" fill="#57a0ad"/>
<rect x="496.30" y="422.43" width="6.70" height="112.97" fill="#ff8674"/>
<rect x="522.40" y="470.05" width="6.30" height="65.35" fill="#57a0ad"/>
<rect x="529.40" y="464.19" width="6.70" height="71.21" fill="#ff8674"/>
<rect x="555.50" y="494.22" width="6.30" height="41.18" fill="#57a0ad"/>
<rect x="562.50" y="489.50" width="6.70" height="45.90" fill="#ff8674"/>
<rect x="588.60" y="500.79" width="6.30" height="34.61" fill="#57a0ad"/>
<rect x="595.60" y="465.33" width="6.70" height="70.07" fill="#ff8674"/>
<path d="M317.70 391.80V535.40H615.80" stroke="#7c7c7c" stroke-width="1.2" fill="none"/>
<text x="334.30" y="554.30" font-family="Liberation Sans, sans-serif" font-size="10.60" fill="#6a6a6a" text-anchor="middle" stroke="#6a6a6a" stroke-width="0.18">00-09</text>
<text x="367.40" y="554.30" font-family="Liberation Sans, sans-serif" font-size="10.60" fill="#6a6a6a" text-anchor="middle" stroke="#6a6a6a" stroke-width="0.18">10-19</text>
<text x="400.50" y="554.30" font-family="Liberation Sans, sans-serif" font-size="10.60" fill="#6a6a6a" text-anchor="middle" stroke="#6a6a6a" stroke-width="0.18">20-29</text>
<text x="433.60" y="554.30" font-family="Liberation Sans, sans-serif" font-size="10.60" fill="#6a6a6a" text-anchor="middle" stroke="#6a6a6a" stroke-width="0.18">30-39</text>
<text x="466.70" y="554.30" font-family="Liberation Sans, sans-serif" font-size="10.60" fill="#6a6a6a" text-anchor="middle" stroke="#6a6a6a" stroke-width="0.18">40-49</text>
<text x="499.80" y="554.30" font-family="Liberation Sans, sans-serif" font-size="10.60" fill="#6a6a6a" text-anchor="middle" stroke="#6a6a6a" stroke-width="0.18">50-59</text>
<text x="532.90" y="554.30" font-family="Liberation Sans, sans-serif" font-size="10.60" fill="#6a6a6a" text-anchor="middle" stroke="#6a6a6a" stroke-width="0.18">60-69</text>
<text x="566.00" y="554.30" font-family="Liberation Sans, sans-serif" font-size="10.60" fill="#6a6a6a" text-anchor="middle" stroke="#6a6a6a" stroke-width="0.18">70-79</text>
<text x="599.00" y="554.30" font-family="Liberation Sans, sans-serif" font-size="10.60" fill="#6a6a6a" text-anchor="middle" stroke="#6a6a6a" stroke-width="0.18">80+</text>
<text x="430.00" y="571.50" font-family="Liberation Sans, sans-serif" font-size="10.60" fill="#6a6a6a" textLength="73.00" lengthAdjust="spacingAndGlyphs" stroke="#6a6a6a" stroke-width="0.18">GRUPO ETÁRIO</text>
<text x="275.90" y="501.15" font-family="Liberation Sans, sans-serif" font-size="10.30" fill="#6a6a6a" textLength="73.90" transform="rotate(-90 275.90 501.15)" lengthAdjust="spacingAndGlyphs" stroke="#6a6a6a" stroke-width="0.18">TOTAL DE CASOS</text>
</g>
<g id="deaths">
<path d="M320.30 754.11H615.70" stroke="#7a7a7a" stroke-width="1.15" stroke-dasharray="1.3 2.147" fill="none"/>
<path d="M320.30 738.42H615.70" stroke="#7a7a7a" stroke-width="1.15" stroke-dasharray="1.3 2.147" fill="none"/>
<path d="M320.30 722.73H615.70" stroke="#7a7a7a" stroke-width="1.15" stroke-dasharray="1.3 2.147" fill="none"/>
<path d="M320.30 707.04H615.70" stroke="#7a7a7a" stroke-width="1.15" stroke-dasharray="1.3 2.147" fill="none"/>
<path d="M320.30 691.35H615.70" stroke="#7a7a7a" stroke-width="1.15" stroke-dasharray="1.3 2.147" fill="none"/>
<path d="M320.30 675.66H615.70" stroke="#7a7a7a" stroke-width="1.15" stroke-dasharray="1.3 2.147" fill="none"/>
<path d="M320.30 659.97H615.70" stroke="#7a7a7a" stroke-width="1.15" stroke-dasharray="1.3 2.147" fill="none"/>
<text x="309.00" y="773.25" font-family="Liberation Sans, sans-serif" font-size="9.90" fill="#6a6a6a" text-anchor="end" textLength="5.55" lengthAdjust="spacingAndGlyphs" stroke="#6a6a6a" stroke-width="0.18">0</text>
<text x="309.00" y="757.56" font-family="Liberation Sans, sans-serif" font-size="9.90" fill="#6a6a6a" text-anchor="end" textLength="20.70" lengthAdjust="spacingAndGlyphs" stroke="#6a6a6a" stroke-width="0.18">1000</text>
<text x="309.00" y="741.87" font-family="Liberation Sans, sans-serif" font-size="9.90" fill="#6a6a6a" text-anchor="end" textLength="20.70" lengthAdjust="spacingAndGlyphs" stroke="#6a6a6a" stroke-width="0.18">2000</text>
<text x="309.00" y="726.18" font-family="Liberation Sans, sans-serif" font-size="9.90" fill="#6a6a6a" text-anchor="end" textLength="20.70" lengthAdjust="spacingAndGlyphs" stroke="#6a6a6a" stroke-width="0.18">3000</text>
<text x="309.00" y="710.49" font-family="Liberation Sans, sans-serif" font-size="9.90" fill="#6a6a6a" text-anchor="end" textLength="20.70" lengthAdjust="spacingAndGlyphs" stroke="#6a6a6a" stroke-width="0.18">4000</text>
<text x="309.00" y="694.80" font-family="Liberation Sans, sans-serif" font-size="9.90" fill="#6a6a6a" text-anchor="end" textLength="20.70" lengthAdjust="spacingAndGlyphs" stroke="#6a6a6a" stroke-width="0.18">5000</text>
<text x="309.00" y="679.11" font-family="Liberation Sans, sans-serif" font-size="9.90" fill="#6a6a6a" text-anchor="end" textLength="20.70" lengthAdjust="spacingAndGlyphs" stroke="#6a6a6a" stroke-width="0.18">6000</text>
<text x="309.00" y="663.42" font-family="Liberation Sans, sans-serif" font-size="9.90" fill="#6a6a6a" text-anchor="end" textLength="20.70" lengthAdjust="spacingAndGlyphs" stroke="#6a6a6a" stroke-width="0.18">7000</text>
<rect x="459.00" y="768.86" width="8.50" height="0.94" fill="#57a0ad"/>
<rect x="468.20" y="769.41" width="8.70" height="0.39" fill="#ff8674"/>
<rect x="492.10" y="765.09" width="8.50" height="4.71" fill="#57a0ad"/>
<rect x="501.30" y="768.07" width="8.70" height="1.73" fill="#ff8674"/>
<rect x="525.20" y="752.85" width="8.50" height="16.95" fill="#57a0ad"/>
<rect x="534.40" y="763.05" width="8.70" height="6.75" fill="#ff8674"/>
<rect x="558.30" y="733.40" width="8.50" height="36.40" fill="#57a0ad"/>
<rect x="567.50" y="748.46" width="8.70" height="21.34" fill="#ff8674"/>
<rect x="591.40" y="686.64" width="8.50" height="83.16" fill="#57a0ad"/>
<rect x="600.60" y="671.58" width="8.70" height="98.22" fill="#ff8674"/>
<path d="M318.70 659.37V769.80H616.70" stroke="#7c7c7c" stroke-width="1.2" fill="none"/>
<text x="335.10" y="789.00" font-family="Liberation Sans, sans-serif" font-size="10.60" fill="#6a6a6a" text-anchor="middle" stroke="#6a6a6a" stroke-width="0.18">00-09</text>
<text x="368.20" y="789.00" font-family="Liberation Sans, sans-serif" font-size="10.60" fill="#6a6a6a" text-anchor="middle" stroke="#6a6a6a" stroke-width="0.18">10-19</text>
<text x="401.30" y="789.00" font-family="Liberation Sans, sans-serif" font-size="10.60" fill="#6a6a6a" text-anchor="middle" stroke="#6a6a6a" stroke-width="0.18">20-29</text>
<text x="434.40" y="789.00" font-family="Liberation Sans, sans-serif" font-size="10.60" fill="#6a6a6a" text-anchor="middle" stroke="#6a6a6a" stroke-width="0.18">30-39</text>
<text x="467.50" y="789.00" font-family="Liberation Sans, sans-serif" font-size="10.60" fill="#6a6a6a" text-anchor="middle" stroke="#6a6a6a" stroke-width="0.18">40-49</text>
<text x="500.60" y="789.00" font-family="Liberation Sans, sans-serif" font-size="10.60" fill="#6a6a6a" text-anchor="middle" stroke="#6a6a6a" stroke-width="0.18">50-59</text>
<text x="533.70" y="789.00" font-family="Liberation Sans, sans-serif" font-size="10.60" fill="#6a6a6a" text-anchor="middle" stroke="#6a6a6a" stroke-width="0.18">60-69</text>
<text x="566.80" y="789.00" font-family="Liberation Sans, sans-serif" font-size="10.60" fill="#6a6a6a" text-anchor="middle" stroke="#6a6a6a" stroke-width="0.18">70-79</text>
<text x="600.00" y="789.00" font-family="Liberation Sans, sans-serif" font-size="10.60" fill="#6a6a6a" text-anchor="middle" stroke="#6a6a6a" stroke-width="0.18">80+</text>
<text x="430.50" y="803.40" font-family="Liberation Sans, sans-serif" font-size="10.60" fill="#6a6a6a" textLength="73.00" lengthAdjust="spacingAndGlyphs" stroke="#6a6a6a" stroke-width="0.18">GRUPO ETÁRIO</text>
<text x="285.50" y="754.70" font-family="Liberation Sans, sans-serif" font-size="10.30" fill="#6a6a6a" textLength="79.20" transform="rotate(-90 285.50 754.70)" lengthAdjust="spacingAndGlyphs" stroke="#6a6a6a" stroke-width="0.18">TOTAL DE ÓBITOS</text>
</g>
<g id="logos">
<g transform="translate(336 896) scale(0.04666)"><path d="M250 122C180 160 125 240 112 330L108 505C140 450 200 415 250 400Z" fill="#0b6a36"/><path d="M250 122C190 155 140 215 120 290C150 225 200 175 250 150Z" fill="#6db52e"/><path d="M265 150C320 135 390 135 445 112L447 320C430 390 340 430 255 432C200 445 150 480 118 515C150 440 200 405 262 392Z" fill="#e2231a"/><path d="M125 540C160 520 200 500 236 490L236 596C200 596 160 585 130 565Z" fill="#0b6a36"/><circle cx="262" cy="295" r="98" fill="#e8c91c"/><circle cx="262" cy="295" r="98" fill="none" stroke="#7a8a1e" stroke-width="22" stroke-dasharray="30 30"/><circle cx="262" cy="295" r="64" fill="#d9251c"/><circle cx="262" cy="292" r="34" fill="#bfe3f5"/></g>
<text x="363.00" y="910.90" font-family="Liberation Serif, serif" font-size="10.50" fill="#505050" textLength="47.80" font-weight="bold" lengthAdjust="spacingAndGlyphs">REPÚBLICA</text>
<text x="363.00" y="919.40" font-family="Liberation Serif, serif" font-size="10.50" fill="#505050" textLength="59.40" font-weight="bold" lengthAdjust="spacingAndGlyphs">PORTUGUESA</text>
<path d="M363 923.5H422.3" stroke="#999" stroke-width="0.8"/>
<text x="363.00" y="931.60" font-family="Liberation Sans, sans-serif" font-size="4.60" fill="#4a4a4a" textLength="14.90" lengthAdjust="spacing" font-weight="bold" >SAÚDE</text>
<defs><clipPath id="c1"><circle cx="300" cy="307" r="215"/></clipPath><linearGradient id="g1" gradientUnits="userSpaceOnUse" x1="150" y1="470" x2="510" y2="240"><stop offset="0" stop-color="#b9b322"/><stop offset="0.18" stop-color="#f0c41b"/><stop offset="0.5" stop-color="#f3ae1c"/><stop offset="0.8" stop-color="#ea7a1d"/><stop offset="1" stop-color="#dc4a1c"/></linearGradient><linearGradient id="g2" gradientUnits="userSpaceOnUse" x1="390" y1="260" x2="500" y2="380"><stop offset="0" stop-color="#b81c18"/><stop offset="1" stop-color="#e5241c"/></linearGradient></defs>
<g transform="translate(430 896) scale(0.06998)"><g clip-path="url(#c1)"><rect x="80" y="85" width="445" height="445" fill="#1b9d4c"/><path d="M212 80L540 80L540 390L420 412L388 258L195 192Z" fill="#da2a1c"/><path d="M388 258L530 300L520 385L420 412Z" fill="url(#g2)"/><path d="M128 365C148 250 222 160 332 150C432 144 502 220 520 315C472 262 422 255 382 258C300 262 240 320 215 390L222 500C170 472 134 422 128 365Z" fill="url(#g1)"/><path d="M215 390C236 320 300 264 390 259L420 411C350 436 268 426 215 390Z" fill="#fff"/><path d="M182 200L216 206L190 242Z" fill="#fff"/></g></g>
<path d="M472 902.8V932.4" stroke="#c6c6c6" stroke-width="1.3"/>
<text x="478.20" y="916.00" font-family="Liberation Sans, sans-serif" font-size="18.50" fill="#444" textLength="31.00" font-weight="bold" lengthAdjust="spacingAndGlyphs">SNS</text>
<text x="478.30" y="924.60" font-family="Liberation Sans, sans-serif" font-size="8.00" fill="#555" textLength="50.30" lengthAdjust="spacingAndGlyphs">SERVIÇO NACIONAL</text>
<text x="478.30" y="932.80" font-family="Liberation Sans, sans-serif" font-size="8.00" fill="#555" textLength="25.80" lengthAdjust="spacingAndGlyphs">DE SAÚDE</text>
<g transform="translate(538 898) scale(0.06219)"><path d="M128 196C150 150 250 136 402 128L416 166C350 202 200 212 132 204Z" fill="#0f6d36"/><path d="M143 214C230 226 370 216 456 176L486 236C400 272 250 282 160 250Z" fill="#e31b1e"/><path d="M143 214C200 224 260 224 300 220L250 232C200 232 160 226 143 214Z" fill="#9c1518"/><path d="M113 243C200 280 340 286 440 270L452 300C350 336 200 332 108 296Z" fill="#0f6d36"/><path d="M148 320C250 346 400 340 487 293C482 340 440 376 400 381C320 391 220 376 150 331Z" fill="#e31b1e"/><path d="M117 344C180 386 300 396 420 375L441 396C380 426 280 431 200 426C160 400 130 376 117 344Z" fill="#0f6d36"/><path d="M208 414C280 431 380 426 446 399C420 440 370 471 320 471C270 466 230 446 208 414Z" fill="#e31b1e"/><path d="M208 414C250 426 300 430 340 428L300 440C260 438 225 430 208 414Z" fill="#a5161a"/></g>
<text x="574.40" y="921.00" font-family="Liberation Sans, sans-serif" font-size="21.40" fill="#383838" textLength="42.40" font-weight="bold" lengthAdjust="spacingAndGlyphs" stroke="#383838" stroke-width="0.3">DGS</text>
<text x="619.40" y="912.30" font-family="Liberation Sans, sans-serif" font-size="5.00" fill="#555" textLength="12.80" lengthAdjust="spacingAndGlyphs">desde</text>
<text x="619.40" y="918.40" font-family="Liberation Sans, sans-serif" font-size="6.00" fill="#505050" textLength="12.80" font-weight="bold" lengthAdjust="spacingAndGlyphs">1899</text>
<path d="M619.4 921.1H632.4" stroke="#8a8a8a" stroke-width="0.9"/>
<text x="574.90" y="929.10" font-family="Liberation Sans, sans-serif" font-size="6.50" fill="#555" textLength="57.80" lengthAdjust="spacingAndGlyphs">Direção-Geral da Saúde</text>
</g>
</svg>
</div></body></html>
